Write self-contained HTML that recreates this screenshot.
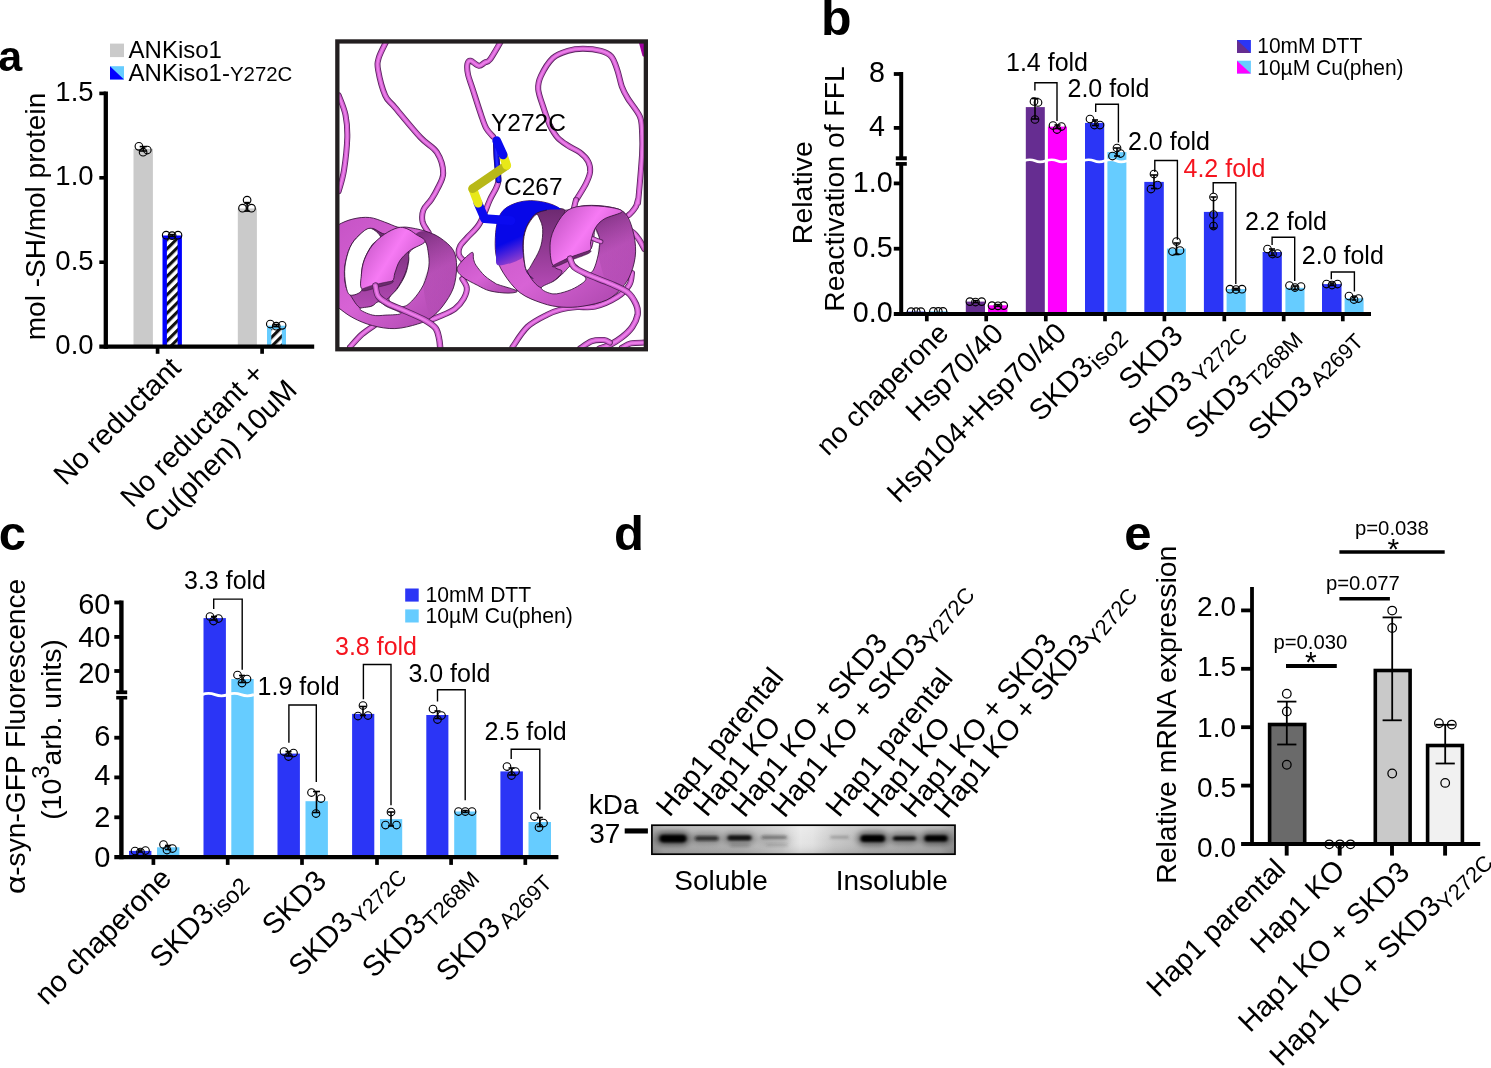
<!DOCTYPE html>
<html lang="en"><head><meta charset="utf-8"><title>Figure</title>
<style>
html,body{margin:0;padding:0;background:#fff;}
body{width:1491px;height:1068px;overflow:hidden;}
svg{display:block;font-family:"Liberation Sans", Arial, Helvetica, sans-serif;}
</style></head><body>
<svg width="1491" height="1068" viewBox="0 0 1491 1068">
<rect width="1491" height="1068" fill="#fff"/>
<g id="panel-a">
<defs><pattern id="hatch" width="6.5" height="6.5" patternUnits="userSpaceOnUse" patternTransform="rotate(-45)"><rect width="6.5" height="6.5" fill="#fff"/><rect y="0" width="6.5" height="3.1" fill="#111"/></pattern></defs>
<text x="-1.80" y="71.30" font-size="43" font-weight="bold">a</text>
<rect x="110.00" y="43.60" width="14.00" height="13.50" fill="#cacaca"/>
<rect x="110.00" y="66.20" width="14.00" height="13.20" fill="#66ccff"/>
<polygon points="110,66.2 124,79.4 110,79.4" fill="#0000ff"/>
<text x="128.60" y="57.80" font-size="24">ANKiso1</text>
<text x="128.60" y="80.60" font-size="24">ANKiso1-<tspan font-size="20.4">Y272C</tspan></text>
<rect x="133.50" y="148.80" width="19.40" height="197.80" fill="#cacaca"/>
<rect x="237.80" y="208.50" width="19.10" height="138.10" fill="#cacaca"/>
<rect x="162.50" y="235.50" width="19.40" height="111.10" fill="#0000ff"/>
<rect x="166.90" y="239.00" width="10.70" height="107.60" fill="url(#hatch)"/>
<rect x="267.00" y="325.70" width="19.00" height="20.90" fill="#66ccff"/>
<rect x="271.30" y="329.00" width="10.50" height="17.60" fill="url(#hatch)"/>
<line x1="105.80" y1="91.40" x2="105.80" y2="348.70" stroke="#000" stroke-width="4.3"/>
<line x1="99.30" y1="346.60" x2="314.20" y2="346.60" stroke="#000" stroke-width="4.2"/>
<line x1="99.30" y1="262.20" x2="105.80" y2="262.20" stroke="#000" stroke-width="3.6"/>
<line x1="99.30" y1="177.80" x2="105.80" y2="177.80" stroke="#000" stroke-width="3.6"/>
<line x1="99.30" y1="93.40" x2="105.80" y2="93.40" stroke="#000" stroke-width="3.6"/>
<line x1="157.60" y1="346.60" x2="157.60" y2="353.80" stroke="#000" stroke-width="3.7"/>
<line x1="262.10" y1="346.60" x2="262.10" y2="353.80" stroke="#000" stroke-width="3.7"/>
<text x="93.60" y="353.90" font-size="27.5" text-anchor="end">0.0</text>
<text x="93.60" y="269.50" font-size="27.5" text-anchor="end">0.5</text>
<text x="93.60" y="185.10" font-size="27.5" text-anchor="end">1.0</text>
<text x="93.60" y="100.70" font-size="27.5" text-anchor="end">1.5</text>
<text x="0.00" y="0.00" font-size="28" text-anchor="middle" transform="translate(45.10 216.50) rotate(-90)">mol -SH/mol protein</text>
<line x1="143.20" y1="146.60" x2="143.20" y2="151.00" stroke="#000" stroke-width="1.6"/>
<line x1="139.70" y1="146.60" x2="146.70" y2="146.60" stroke="#000" stroke-width="1.6"/>
<line x1="139.70" y1="151.00" x2="146.70" y2="151.00" stroke="#000" stroke-width="1.6"/>
<circle cx="138.90" cy="146.30" r="3.8" fill="none" stroke="#000" stroke-width="1.15"/>
<circle cx="147.30" cy="150.00" r="3.8" fill="none" stroke="#000" stroke-width="1.15"/>
<circle cx="143.10" cy="152.20" r="3.8" fill="none" stroke="#000" stroke-width="1.15"/>
<line x1="172.20" y1="234.60" x2="172.20" y2="236.40" stroke="#000" stroke-width="1.6"/>
<line x1="169.20" y1="234.60" x2="175.20" y2="234.60" stroke="#000" stroke-width="1.6"/>
<line x1="169.20" y1="236.40" x2="175.20" y2="236.40" stroke="#000" stroke-width="1.6"/>
<circle cx="166.20" cy="235.20" r="3.8" fill="none" stroke="#000" stroke-width="1.15"/>
<circle cx="172.10" cy="235.60" r="3.8" fill="none" stroke="#000" stroke-width="1.15"/>
<circle cx="178.00" cy="235.20" r="3.8" fill="none" stroke="#000" stroke-width="1.15"/>
<line x1="247.10" y1="202.60" x2="247.10" y2="211.10" stroke="#000" stroke-width="1.6"/>
<line x1="244.35" y1="202.60" x2="249.85" y2="202.60" stroke="#000" stroke-width="1.6"/>
<line x1="244.35" y1="211.10" x2="249.85" y2="211.10" stroke="#000" stroke-width="1.6"/>
<circle cx="247.10" cy="200.10" r="3.8" fill="none" stroke="#000" stroke-width="1.15"/>
<circle cx="242.50" cy="208.20" r="3.8" fill="none" stroke="#000" stroke-width="1.15"/>
<circle cx="251.50" cy="208.20" r="3.8" fill="none" stroke="#000" stroke-width="1.15"/>
<line x1="276.30" y1="324.60" x2="276.30" y2="326.60" stroke="#000" stroke-width="1.6"/>
<line x1="273.30" y1="324.60" x2="279.30" y2="324.60" stroke="#000" stroke-width="1.6"/>
<line x1="273.30" y1="326.60" x2="279.30" y2="326.60" stroke="#000" stroke-width="1.6"/>
<circle cx="270.30" cy="324.00" r="3.8" fill="none" stroke="#000" stroke-width="1.15"/>
<circle cx="276.20" cy="326.20" r="3.8" fill="none" stroke="#000" stroke-width="1.15"/>
<circle cx="282.10" cy="325.30" r="3.8" fill="none" stroke="#000" stroke-width="1.15"/>
<text x="0.00" y="0.00" font-size="28.9" text-anchor="end" transform="translate(182.50 369.50) rotate(-45)">No reductant</text>
<text x="0.00" y="0.00" font-size="28.7" text-anchor="middle" transform="translate(199.00 442.00) rotate(-45)">No reductant +</text>
<text x="0.00" y="0.00" font-size="29.0" text-anchor="middle" transform="translate(227.30 463.00) rotate(-45)">Cu(phen) 10uM</text>
</g>
<g id="protein">
<defs><clipPath id="pclip"><rect x="337.4" y="41.5" width="308.4" height="307.8"/></clipPath><linearGradient id="rib1" x1="0" y1="0" x2="1" y2="1"><stop offset="0" stop-color="#c452c4"/><stop offset="0.5" stop-color="#d763d5"/><stop offset="1" stop-color="#a743a8"/></linearGradient><linearGradient id="rib2" x1="0" y1="0" x2="1" y2="0.6"><stop offset="0" stop-color="#b84cb9"/><stop offset="0.55" stop-color="#f67af4"/><stop offset="1" stop-color="#c653c6"/></linearGradient><linearGradient id="ribd" x1="0" y1="0" x2="0" y2="1"><stop offset="0" stop-color="#6c2a70"/><stop offset="1" stop-color="#b54ab5"/></linearGradient><linearGradient id="blue1" gradientUnits="userSpaceOnUse" x1="500" y1="245" x2="512" y2="272"><stop offset="0" stop-color="#0707e8"/><stop offset="1" stop-color="#c352c4"/></linearGradient><linearGradient id="shade" x1="0" y1="0" x2="0.25" y2="1"><stop offset="0" stop-color="#3a0a40" stop-opacity="0.62"/><stop offset="0.55" stop-color="#3a0a40" stop-opacity="0.12"/><stop offset="1" stop-color="#3a0a40" stop-opacity="0"/></linearGradient></defs>
<rect x="337.00" y="41.00" width="309.00" height="309.00" fill="#fff"/>
<g clip-path="url(#pclip)">
<path d="M338.7 95.4C339.9 98.7 344.1 107.9 345.5 114.9C346.9 121.9 347.5 128.1 347.3 137.4C347.0 146.6 345.4 161.3 344.0 170.3C342.6 179.3 339.6 187.8 338.7 191.3" fill="none" stroke="#5b2460" stroke-width="6.0" stroke-linecap="round" stroke-linejoin="round"/>
<path d="M338.7 95.4C339.9 98.7 344.1 107.9 345.5 114.9C346.9 121.9 347.5 128.1 347.3 137.4C347.0 146.6 345.4 161.3 344.0 170.3C342.6 179.3 339.6 187.8 338.7 191.3" fill="none" stroke="#cf5ece" stroke-width="4.3" stroke-linecap="round" stroke-linejoin="round"/>
<path d="M338.7 95.4C339.9 98.7 344.1 107.9 345.5 114.9C346.9 121.9 347.5 128.1 347.3 137.4C347.0 146.6 345.4 161.3 344.0 170.3C342.6 179.3 339.6 187.8 338.7 191.3" fill="none" stroke="#f286f0" stroke-width="2.0" stroke-linecap="round" stroke-linejoin="round" opacity="0.8"/>
<path d="M385.9 42.2C384.7 44.9 380.0 53.4 378.7 58.0C377.4 62.6 377.1 63.7 378.1 70.0C379.2 76.2 382.4 89.2 385.2 95.4C388.0 101.7 389.1 100.4 394.9 107.4C400.8 114.4 413.4 129.9 420.4 137.4C427.4 144.9 433.1 146.4 436.9 152.4C440.7 158.4 443.2 167.1 443.2 173.3C443.2 179.6 438.9 185.4 436.9 189.8C434.8 194.3 433.1 196.6 430.9 200.0C428.6 203.4 424.8 206.3 423.4 210.0C422.0 213.6 421.8 218.2 422.6 222.0C423.5 225.7 427.6 230.7 428.6 232.5" fill="none" stroke="#5b2460" stroke-width="6.0" stroke-linecap="round" stroke-linejoin="round"/>
<path d="M385.9 42.2C384.7 44.9 380.0 53.4 378.7 58.0C377.4 62.6 377.1 63.7 378.1 70.0C379.2 76.2 382.4 89.2 385.2 95.4C388.0 101.7 389.1 100.4 394.9 107.4C400.8 114.4 413.4 129.9 420.4 137.4C427.4 144.9 433.1 146.4 436.9 152.4C440.7 158.4 443.2 167.1 443.2 173.3C443.2 179.6 438.9 185.4 436.9 189.8C434.8 194.3 433.1 196.6 430.9 200.0C428.6 203.4 424.8 206.3 423.4 210.0C422.0 213.6 421.8 218.2 422.6 222.0C423.5 225.7 427.6 230.7 428.6 232.5" fill="none" stroke="#cf5ece" stroke-width="4.3" stroke-linecap="round" stroke-linejoin="round"/>
<path d="M385.9 42.2C384.7 44.9 380.0 53.4 378.7 58.0C377.4 62.6 377.1 63.7 378.1 70.0C379.2 76.2 382.4 89.2 385.2 95.4C388.0 101.7 389.1 100.4 394.9 107.4C400.8 114.4 413.4 129.9 420.4 137.4C427.4 144.9 433.1 146.4 436.9 152.4C440.7 158.4 443.2 167.1 443.2 173.3C443.2 179.6 438.9 185.4 436.9 189.8C434.8 194.3 433.1 196.6 430.9 200.0C428.6 203.4 424.8 206.3 423.4 210.0C422.0 213.6 421.8 218.2 422.6 222.0C423.5 225.7 427.6 230.7 428.6 232.5" fill="none" stroke="#f286f0" stroke-width="2.0" stroke-linecap="round" stroke-linejoin="round" opacity="0.8"/>
<path d="M500.5 42.2C498.7 45.1 492.6 56.1 490.0 59.5C487.4 62.8 486.7 61.4 484.8 62.5C482.9 63.5 481.2 66.1 478.8 65.8C476.4 65.5 472.5 61.0 470.6 60.7C468.7 60.4 467.9 61.7 467.4 64.0C467.0 66.3 467.1 70.2 468.0 74.5C468.9 78.7 470.7 82.7 472.8 89.4C475.0 96.2 478.8 108.4 481.1 114.9C483.3 121.4 484.3 124.8 486.3 128.4C488.3 132.0 491.9 135.3 493.1 136.6" fill="none" stroke="#5b2460" stroke-width="6.0" stroke-linecap="round" stroke-linejoin="round"/>
<path d="M500.5 42.2C498.7 45.1 492.6 56.1 490.0 59.5C487.4 62.8 486.7 61.4 484.8 62.5C482.9 63.5 481.2 66.1 478.8 65.8C476.4 65.5 472.5 61.0 470.6 60.7C468.7 60.4 467.9 61.7 467.4 64.0C467.0 66.3 467.1 70.2 468.0 74.5C468.9 78.7 470.7 82.7 472.8 89.4C475.0 96.2 478.8 108.4 481.1 114.9C483.3 121.4 484.3 124.8 486.3 128.4C488.3 132.0 491.9 135.3 493.1 136.6" fill="none" stroke="#cf5ece" stroke-width="4.3" stroke-linecap="round" stroke-linejoin="round"/>
<path d="M500.5 42.2C498.7 45.1 492.6 56.1 490.0 59.5C487.4 62.8 486.7 61.4 484.8 62.5C482.9 63.5 481.2 66.1 478.8 65.8C476.4 65.5 472.5 61.0 470.6 60.7C468.7 60.4 467.9 61.7 467.4 64.0C467.0 66.3 467.1 70.2 468.0 74.5C468.9 78.7 470.7 82.7 472.8 89.4C475.0 96.2 478.8 108.4 481.1 114.9C483.3 121.4 484.3 124.8 486.3 128.4C488.3 132.0 491.9 135.3 493.1 136.6" fill="none" stroke="#f286f0" stroke-width="2.0" stroke-linecap="round" stroke-linejoin="round" opacity="0.8"/>
<path d="M576.1 200.0C577.8 197.3 583.6 188.5 585.9 183.8C588.2 179.1 589.7 175.6 590.1 171.8C590.4 168.1 589.8 164.6 588.1 161.3C586.4 158.1 583.3 155.0 579.9 152.4C576.5 149.7 571.6 148.1 567.9 145.6C564.2 143.1 560.4 140.7 557.4 137.4C554.4 134.0 552.2 130.1 549.9 125.4C547.7 120.6 545.9 114.9 543.9 108.9C542.0 102.9 538.7 94.9 538.2 89.4C537.7 83.9 538.5 81.2 540.9 76.0C543.4 70.7 548.4 62.2 552.9 58.0C557.4 53.8 562.9 52.3 567.9 50.8C572.9 49.2 577.4 48.7 582.9 48.7C588.4 48.7 596.1 49.5 600.9 50.8C605.6 52.1 608.6 53.3 611.3 56.5C614.1 59.7 615.6 65.0 617.3 70.0C619.1 75.0 620.1 81.7 621.8 86.4C623.6 91.2 624.8 93.4 627.8 98.4C630.8 103.4 637.4 110.7 639.8 116.4C642.2 122.1 641.7 126.6 642.1 132.9C642.4 139.1 642.7 142.7 642.1 153.9C641.4 165.0 639.0 192.4 638.3 200.0C637.6 207.6 638.4 198.5 638.0 199.5C637.6 200.5 637.0 204.2 636.1 206.2C635.1 208.2 633.6 210.0 632.3 211.5C631.1 213.0 629.2 214.6 628.6 215.2" fill="none" stroke="#5b2460" stroke-width="6.0" stroke-linecap="round" stroke-linejoin="round"/>
<path d="M576.1 200.0C577.8 197.3 583.6 188.5 585.9 183.8C588.2 179.1 589.7 175.6 590.1 171.8C590.4 168.1 589.8 164.6 588.1 161.3C586.4 158.1 583.3 155.0 579.9 152.4C576.5 149.7 571.6 148.1 567.9 145.6C564.2 143.1 560.4 140.7 557.4 137.4C554.4 134.0 552.2 130.1 549.9 125.4C547.7 120.6 545.9 114.9 543.9 108.9C542.0 102.9 538.7 94.9 538.2 89.4C537.7 83.9 538.5 81.2 540.9 76.0C543.4 70.7 548.4 62.2 552.9 58.0C557.4 53.8 562.9 52.3 567.9 50.8C572.9 49.2 577.4 48.7 582.9 48.7C588.4 48.7 596.1 49.5 600.9 50.8C605.6 52.1 608.6 53.3 611.3 56.5C614.1 59.7 615.6 65.0 617.3 70.0C619.1 75.0 620.1 81.7 621.8 86.4C623.6 91.2 624.8 93.4 627.8 98.4C630.8 103.4 637.4 110.7 639.8 116.4C642.2 122.1 641.7 126.6 642.1 132.9C642.4 139.1 642.7 142.7 642.1 153.9C641.4 165.0 639.0 192.4 638.3 200.0C637.6 207.6 638.4 198.5 638.0 199.5C637.6 200.5 637.0 204.2 636.1 206.2C635.1 208.2 633.6 210.0 632.3 211.5C631.1 213.0 629.2 214.6 628.6 215.2" fill="none" stroke="#cf5ece" stroke-width="4.3" stroke-linecap="round" stroke-linejoin="round"/>
<path d="M576.1 200.0C577.8 197.3 583.6 188.5 585.9 183.8C588.2 179.1 589.7 175.6 590.1 171.8C590.4 168.1 589.8 164.6 588.1 161.3C586.4 158.1 583.3 155.0 579.9 152.4C576.5 149.7 571.6 148.1 567.9 145.6C564.2 143.1 560.4 140.7 557.4 137.4C554.4 134.0 552.2 130.1 549.9 125.4C547.7 120.6 545.9 114.9 543.9 108.9C542.0 102.9 538.7 94.9 538.2 89.4C537.7 83.9 538.5 81.2 540.9 76.0C543.4 70.7 548.4 62.2 552.9 58.0C557.4 53.8 562.9 52.3 567.9 50.8C572.9 49.2 577.4 48.7 582.9 48.7C588.4 48.7 596.1 49.5 600.9 50.8C605.6 52.1 608.6 53.3 611.3 56.5C614.1 59.7 615.6 65.0 617.3 70.0C619.1 75.0 620.1 81.7 621.8 86.4C623.6 91.2 624.8 93.4 627.8 98.4C630.8 103.4 637.4 110.7 639.8 116.4C642.2 122.1 641.7 126.6 642.1 132.9C642.4 139.1 642.7 142.7 642.1 153.9C641.4 165.0 639.0 192.4 638.3 200.0C637.6 207.6 638.4 198.5 638.0 199.5C637.6 200.5 637.0 204.2 636.1 206.2C635.1 208.2 633.6 210.0 632.3 211.5C631.1 213.0 629.2 214.6 628.6 215.2" fill="none" stroke="#f286f0" stroke-width="2.0" stroke-linecap="round" stroke-linejoin="round" opacity="0.8"/>
<path d="M576.1 200.0C576.1 200.2 576.1 199.6 575.7 201.0C575.3 202.4 574.2 207.2 573.9 208.5" fill="none" stroke="#5b2460" stroke-width="6.0" stroke-linecap="round" stroke-linejoin="round"/>
<path d="M576.1 200.0C576.1 200.2 576.1 199.6 575.7 201.0C575.3 202.4 574.2 207.2 573.9 208.5" fill="none" stroke="#cf5ece" stroke-width="4.3" stroke-linecap="round" stroke-linejoin="round"/>
<path d="M576.1 200.0C576.1 200.2 576.1 199.6 575.7 201.0C575.3 202.4 574.2 207.2 573.9 208.5" fill="none" stroke="#f286f0" stroke-width="2.0" stroke-linecap="round" stroke-linejoin="round" opacity="0.8"/>
<polygon points="639,43 646,43 646,58 642.5,56" fill="#a000a0"/>
<path d="M495.9 140.0C496.0 143.2 496.3 152.4 496.7 159.4C497.0 166.4 499.3 175.2 498.2 181.9C497.0 188.7 493.0 192.9 489.9 199.9C486.8 206.9 483.2 217.6 479.4 223.9C475.7 230.1 470.7 233.6 467.5 237.3C464.2 241.1 461.3 243.3 460.0 246.3C458.6 249.3 458.2 252.6 459.2 255.3C460.2 258.1 464.8 261.6 466.0 262.8" fill="none" stroke="#5b2460" stroke-width="6.0" stroke-linecap="round" stroke-linejoin="round"/>
<path d="M495.9 140.0C496.0 143.2 496.3 152.4 496.7 159.4C497.0 166.4 499.3 175.2 498.2 181.9C497.0 188.7 493.0 192.9 489.9 199.9C486.8 206.9 483.2 217.6 479.4 223.9C475.7 230.1 470.7 233.6 467.5 237.3C464.2 241.1 461.3 243.3 460.0 246.3C458.6 249.3 458.2 252.6 459.2 255.3C460.2 258.1 464.8 261.6 466.0 262.8" fill="none" stroke="#cf5ece" stroke-width="4.3" stroke-linecap="round" stroke-linejoin="round"/>
<path d="M495.9 140.0C496.0 143.2 496.3 152.4 496.7 159.4C497.0 166.4 499.3 175.2 498.2 181.9C497.0 188.7 493.0 192.9 489.9 199.9C486.8 206.9 483.2 217.6 479.4 223.9C475.7 230.1 470.7 233.6 467.5 237.3C464.2 241.1 461.3 243.3 460.0 246.3C458.6 249.3 458.2 252.6 459.2 255.3C460.2 258.1 464.8 261.6 466.0 262.8" fill="none" stroke="#f286f0" stroke-width="2.0" stroke-linecap="round" stroke-linejoin="round" opacity="0.8"/>
<path d="M644.3 248.9C643.3 247.2 640.6 241.4 638.3 238.4C636.1 235.4 634.1 232.0 630.8 231.0C627.6 230.0 623.8 230.7 618.8 232.5C613.8 234.2 605.1 240.4 600.9 241.4C596.6 242.5 594.6 239.2 593.4 238.7" fill="none" stroke="#5b2460" stroke-width="6.0" stroke-linecap="round" stroke-linejoin="round"/>
<path d="M644.3 248.9C643.3 247.2 640.6 241.4 638.3 238.4C636.1 235.4 634.1 232.0 630.8 231.0C627.6 230.0 623.8 230.7 618.8 232.5C613.8 234.2 605.1 240.4 600.9 241.4C596.6 242.5 594.6 239.2 593.4 238.7" fill="none" stroke="#cf5ece" stroke-width="4.3" stroke-linecap="round" stroke-linejoin="round"/>
<path d="M644.3 248.9C643.3 247.2 640.6 241.4 638.3 238.4C636.1 235.4 634.1 232.0 630.8 231.0C627.6 230.0 623.8 230.7 618.8 232.5C613.8 234.2 605.1 240.4 600.9 241.4C596.6 242.5 594.6 239.2 593.4 238.7" fill="none" stroke="#f286f0" stroke-width="2.0" stroke-linecap="round" stroke-linejoin="round" opacity="0.8"/>
<path d="M462.3 278.9C463.1 280.4 466.6 284.6 466.8 287.9C467.1 291.1 465.8 294.9 463.8 298.4C461.8 301.9 458.8 305.9 454.9 308.9C450.9 311.9 444.4 314.4 439.9 316.3C435.4 318.3 429.9 320.1 427.9 320.8" fill="none" stroke="#5b2460" stroke-width="6.0" stroke-linecap="round" stroke-linejoin="round"/>
<path d="M462.3 278.9C463.1 280.4 466.6 284.6 466.8 287.9C467.1 291.1 465.8 294.9 463.8 298.4C461.8 301.9 458.8 305.9 454.9 308.9C450.9 311.9 444.4 314.4 439.9 316.3C435.4 318.3 429.9 320.1 427.9 320.8" fill="none" stroke="#cf5ece" stroke-width="4.3" stroke-linecap="round" stroke-linejoin="round"/>
<path d="M462.3 278.9C463.1 280.4 466.6 284.6 466.8 287.9C467.1 291.1 465.8 294.9 463.8 298.4C461.8 301.9 458.8 305.9 454.9 308.9C450.9 311.9 444.4 314.4 439.9 316.3C435.4 318.3 429.9 320.1 427.9 320.8" fill="none" stroke="#f286f0" stroke-width="2.0" stroke-linecap="round" stroke-linejoin="round" opacity="0.8"/>
<path d="M375.4 324.6C373.2 326.2 366.2 330.6 362.0 334.3C357.7 338.1 352.0 344.9 350.0 347.1" fill="none" stroke="#5b2460" stroke-width="6.0" stroke-linecap="round" stroke-linejoin="round"/>
<path d="M375.4 324.6C373.2 326.2 366.2 330.6 362.0 334.3C357.7 338.1 352.0 344.9 350.0 347.1" fill="none" stroke="#cf5ece" stroke-width="4.3" stroke-linecap="round" stroke-linejoin="round"/>
<path d="M375.4 324.6C373.2 326.2 366.2 330.6 362.0 334.3C357.7 338.1 352.0 344.9 350.0 347.1" fill="none" stroke="#f286f0" stroke-width="2.0" stroke-linecap="round" stroke-linejoin="round" opacity="0.8"/>
<path d="M512.5 347.1C515.0 343.7 521.7 332.2 527.5 326.8C533.2 321.5 541.4 317.7 546.9 314.9C552.4 312.0 555.4 310.9 560.4 309.6C565.4 308.3 571.1 307.6 576.9 307.1C582.6 306.6 588.1 308.3 594.9 306.6C601.6 304.9 611.6 300.5 617.3 296.9C623.1 293.3 626.9 288.9 629.3 284.9C631.8 280.9 631.6 274.9 632.0 272.9" fill="none" stroke="#5b2460" stroke-width="6.0" stroke-linecap="round" stroke-linejoin="round"/>
<path d="M512.5 347.1C515.0 343.7 521.7 332.2 527.5 326.8C533.2 321.5 541.4 317.7 546.9 314.9C552.4 312.0 555.4 310.9 560.4 309.6C565.4 308.3 571.1 307.6 576.9 307.1C582.6 306.6 588.1 308.3 594.9 306.6C601.6 304.9 611.6 300.5 617.3 296.9C623.1 293.3 626.9 288.9 629.3 284.9C631.8 280.9 631.6 274.9 632.0 272.9" fill="none" stroke="#cf5ece" stroke-width="4.3" stroke-linecap="round" stroke-linejoin="round"/>
<path d="M512.5 347.1C515.0 343.7 521.7 332.2 527.5 326.8C533.2 321.5 541.4 317.7 546.9 314.9C552.4 312.0 555.4 310.9 560.4 309.6C565.4 308.3 571.1 307.6 576.9 307.1C582.6 306.6 588.1 308.3 594.9 306.6C601.6 304.9 611.6 300.5 617.3 296.9C623.1 293.3 626.9 288.9 629.3 284.9C631.8 280.9 631.6 274.9 632.0 272.9" fill="none" stroke="#f286f0" stroke-width="2.0" stroke-linecap="round" stroke-linejoin="round" opacity="0.8"/>
<path d="M326.0 266.9C326.0 255.7 327.0 239.4 329.0 232.5C331.0 225.5 334.0 227.2 338.0 225.0C342.0 222.7 347.7 220.2 353.0 219.0C358.2 217.7 364.2 217.0 369.5 217.5C374.7 218.0 379.7 220.3 384.4 222.0C389.2 223.6 394.2 226.3 397.9 227.2C401.7 228.1 402.4 226.6 406.9 227.2C411.4 227.8 419.4 229.2 424.9 231.0C430.4 232.7 435.1 234.5 439.9 237.7C444.6 240.9 450.6 245.6 453.4 250.4C456.1 255.3 456.6 260.7 456.6 266.9C456.6 273.2 455.6 281.4 453.4 287.9C451.1 294.4 446.6 300.9 442.9 305.9C439.1 310.9 435.1 314.8 430.9 317.8C426.6 320.9 423.4 322.3 417.4 324.1C411.4 325.9 402.4 328.4 394.9 328.6C387.4 328.9 379.4 327.4 372.5 325.6C365.5 323.8 358.7 320.9 353.0 317.8C347.2 314.8 342.0 310.4 338.0 307.4C334.0 304.4 331.0 306.6 329.0 299.9C327.0 293.1 326.0 278.1 326.0 266.9Z" fill="url(#rib1)" stroke="#3c173f" stroke-width="0.9" stroke-linejoin="round"/>
<path d="M371.0 228.3C375.2 228.0 379.9 233.3 384.4 234.0C388.9 234.7 394.2 230.7 397.9 232.5C401.7 234.2 405.1 240.2 406.9 244.4C408.7 248.7 409.0 253.2 408.7 257.9C408.5 262.7 407.5 267.7 405.4 272.9C403.4 278.1 399.7 284.9 396.4 289.4C393.2 293.9 389.9 297.1 385.9 299.9C381.9 302.6 376.7 304.5 372.5 305.9C368.2 307.2 364.1 309.8 360.5 308.1C356.8 306.4 353.2 299.5 350.7 295.7C348.2 291.8 346.5 289.7 345.5 284.9C344.5 280.1 344.0 273.2 344.7 266.9C345.5 260.7 347.6 252.7 350.0 247.4C352.4 242.2 355.5 238.6 359.0 235.4C362.5 232.3 366.7 228.5 371.0 228.3Z" fill="url(#ribd)" stroke="#3c173f" stroke-width="0.9" stroke-linejoin="round"/>
<path d="M370.2 228.3C366.6 228.0 362.3 232.3 359.0 235.4C355.6 238.6 352.3 242.2 350.0 247.4C347.6 252.7 345.6 260.7 344.9 266.9C344.2 273.2 344.9 280.2 345.8 284.9C346.7 289.6 347.6 294.2 350.3 295.1C353.0 295.9 360.1 293.6 362.0 290.1C363.8 286.7 361.0 279.5 361.4 274.4C361.8 269.3 362.5 264.4 364.4 259.4C366.2 254.4 369.7 248.1 372.5 244.4C375.2 240.7 381.1 239.9 380.7 237.2C380.3 234.6 373.8 228.6 370.2 228.3Z" fill="#fff" stroke="#3c173f" stroke-width="0.9" stroke-linejoin="round"/>
<path d="M424.9 241.7C422.8 240.9 418.5 244.9 415.9 246.7C413.3 248.5 410.4 250.3 409.2 252.7C408.0 255.0 409.3 257.3 408.7 260.9C408.1 264.5 407.2 269.9 405.4 274.4C403.6 278.9 400.7 283.6 397.9 287.9C395.2 292.1 388.2 296.7 388.9 299.9C389.7 303.0 398.4 306.6 402.4 306.6C406.4 306.6 409.4 303.5 412.9 299.9C416.4 296.2 420.7 290.4 423.4 284.9C426.0 279.4 428.0 272.4 428.8 266.9C429.6 261.4 428.8 256.1 428.2 251.9C427.5 247.7 426.9 242.6 424.9 241.7Z" fill="#fff" stroke="#3c173f" stroke-width="0.9" stroke-linejoin="round"/>
<path d="M359.7 308.9C359.6 307.4 368.5 307.4 371.7 306.2C374.9 305.0 376.2 301.6 378.7 301.7C381.2 301.7 383.0 304.7 386.7 306.6C390.4 308.6 401.0 311.9 400.9 313.4C400.8 314.8 390.7 314.9 385.9 315.1C381.2 315.4 376.8 316.2 372.5 315.1C368.1 314.1 359.8 310.4 359.7 308.9Z" fill="#fff" stroke="#3c173f" stroke-width="0.9" stroke-linejoin="round"/>
<path d="M424.9 241.7C422.8 238.8 415.9 236.0 415.9 234.3C415.9 232.5 420.9 230.7 424.9 231.3C428.9 231.8 435.1 234.5 439.9 237.7C444.6 240.9 450.6 245.6 453.4 250.4C456.1 255.3 456.6 260.7 456.6 266.9C456.6 273.2 455.6 281.4 453.4 287.9C451.1 294.4 446.6 300.9 442.9 305.9C439.1 310.9 434.1 321.3 430.9 317.8C427.6 314.4 423.7 293.4 423.4 284.9C423.0 276.4 428.0 272.4 428.8 266.9C429.6 261.4 428.8 256.1 428.2 251.9C427.5 247.7 426.9 244.7 424.9 241.7Z" fill="url(#shade)" stroke="none" stroke-width="0.9" stroke-linejoin="round"/>
<path d="M397.9 227.7C394.2 228.6 388.7 231.3 384.4 234.3C380.2 237.2 375.8 240.9 372.5 245.2C369.1 249.4 366.2 254.8 364.4 259.7C362.5 264.6 361.7 269.8 361.4 274.7C361.0 279.6 359.2 287.4 362.3 289.1C365.4 290.8 375.0 286.2 379.9 284.9C384.9 283.6 389.7 283.1 392.2 281.1C394.7 279.1 393.7 276.3 394.9 272.9C396.2 269.5 397.2 264.7 399.7 260.9C402.2 257.2 405.7 253.6 409.9 250.4C414.1 247.2 423.9 244.4 424.9 241.7C425.9 239.0 418.9 236.4 415.9 234.3C412.9 232.1 409.9 229.8 406.9 228.7C403.9 227.6 401.7 226.7 397.9 227.7Z" fill="url(#rib2)" stroke="#3c173f" stroke-width="0.9" stroke-linejoin="round"/>
<path d="M362.3 289.1C363.8 288.1 369.0 286.2 374.0 284.9C378.9 283.6 389.4 281.3 392.2 281.1C395.0 280.9 392.8 282.8 390.7 283.7C388.7 284.6 384.2 285.5 379.9 286.7C375.6 287.9 367.9 290.5 365.0 290.9C362.0 291.3 360.8 290.1 362.3 289.1Z" fill="#6a2b6d" stroke="#3c173f" stroke-width="0.5" stroke-linejoin="round"/>
<path d="M375.4 285.6C375.9 287.4 376.1 293.2 378.1 296.1C380.1 299.0 382.9 300.7 387.4 303.2C392.0 305.7 399.2 308.3 405.4 311.1C411.7 313.9 419.8 317.2 424.9 320.1C429.9 323.0 433.3 325.2 435.7 328.3C438.0 331.5 438.4 335.6 439.1 338.8C439.9 342.1 440.0 346.3 440.2 347.8" fill="none" stroke="#5b2460" stroke-width="6.4" stroke-linecap="round" stroke-linejoin="round"/>
<path d="M375.4 285.6C375.9 287.4 376.1 293.2 378.1 296.1C380.1 299.0 382.9 300.7 387.4 303.2C392.0 305.7 399.2 308.3 405.4 311.1C411.7 313.9 419.8 317.2 424.9 320.1C429.9 323.0 433.3 325.2 435.7 328.3C438.0 331.5 438.4 335.6 439.1 338.8C439.9 342.1 440.0 346.3 440.2 347.8" fill="none" stroke="#cf5ece" stroke-width="4.7" stroke-linecap="round" stroke-linejoin="round"/>
<path d="M375.4 285.6C375.9 287.4 376.1 293.2 378.1 296.1C380.1 299.0 382.9 300.7 387.4 303.2C392.0 305.7 399.2 308.3 405.4 311.1C411.7 313.9 419.8 317.2 424.9 320.1C429.9 323.0 433.3 325.2 435.7 328.3C438.0 331.5 438.4 335.6 439.1 338.8C439.9 342.1 440.0 346.3 440.2 347.8" fill="none" stroke="#f286f0" stroke-width="2.2" stroke-linecap="round" stroke-linejoin="round" opacity="0.8"/>
<path d="M457.5 267.2C459.1 263.2 469.0 253.8 471.6 252.5C474.3 251.2 472.8 257.3 473.6 259.4C474.3 261.6 474.3 262.7 476.1 265.4C478.0 268.2 481.7 273.0 484.8 275.9C488.0 278.8 492.6 281.6 495.0 283.1C497.4 284.6 495.3 283.6 499.0 284.9C502.6 286.2 515.5 289.5 517.0 290.9C518.5 292.3 512.5 293.1 508.0 293.1C503.5 293.1 495.1 292.2 490.0 290.9C484.9 289.6 481.9 287.6 477.3 285.2C472.7 282.8 465.6 279.6 462.3 276.6C459.0 273.7 456.0 271.2 457.5 267.2Z" fill="url(#rib1)" stroke="#3c173f" stroke-width="0.9" stroke-linejoin="round"/>
<path d="M505.0 208.8C508.0 206.3 512.7 204.1 517.0 202.8C521.2 201.4 526.0 200.8 530.4 200.7C534.9 200.6 539.9 201.4 543.9 202.2C547.9 203.0 551.4 204.2 554.4 205.5C557.4 206.7 559.4 209.0 561.9 209.7C564.4 210.4 565.4 210.4 569.4 209.7C573.4 209.0 579.1 205.9 585.9 205.5C592.6 205.0 603.4 205.7 609.9 207.0C616.3 208.2 621.0 209.2 624.8 213.0C628.6 216.7 630.8 223.0 632.6 229.5C634.4 235.9 635.9 244.7 635.6 251.9C635.4 259.2 633.4 266.9 631.1 272.9C628.8 278.9 625.9 283.4 621.8 287.9C617.8 292.4 613.3 296.8 606.9 299.9C600.4 302.9 590.4 305.0 582.9 306.2C575.4 307.4 568.7 307.6 561.9 307.1C555.2 306.6 549.4 305.6 542.4 303.2C535.4 300.8 526.5 297.7 520.0 292.7C513.5 287.7 507.5 279.5 503.5 273.2C499.5 266.9 497.3 261.7 496.0 254.9C494.7 248.1 495.2 238.7 495.7 232.5C496.2 226.2 497.4 221.4 499.0 217.5C500.5 213.5 502.0 211.2 505.0 208.8Z" fill="url(#rib1)" stroke="#3c173f" stroke-width="0.9" stroke-linejoin="round"/>
<path d="M534.9 214.2C537.9 211.2 540.7 210.9 543.9 210.0C547.2 209.0 550.9 208.4 554.4 208.5C557.9 208.6 564.4 208.0 564.9 210.7C565.4 213.5 559.7 219.6 557.4 225.0C555.2 230.3 552.0 236.2 551.4 242.9C550.8 249.7 551.9 260.7 553.7 265.4C555.4 270.2 561.8 268.9 561.9 271.4C562.0 273.9 557.9 277.7 554.4 280.4C550.9 283.1 545.4 289.0 540.9 287.6C536.4 286.1 530.4 278.6 527.5 271.7C524.5 264.8 523.5 253.2 523.3 245.9C523.1 238.6 524.3 233.3 526.3 228.0C528.2 222.7 532.0 217.2 534.9 214.2Z" fill="url(#ribd)" stroke="#3c173f" stroke-width="0.9" stroke-linejoin="round"/>
<path d="M505.0 208.8C508.0 206.3 512.7 204.1 517.0 202.8C521.2 201.4 526.0 200.8 530.4 200.7C534.9 200.6 539.9 201.4 543.9 202.2C547.9 203.0 551.7 204.3 554.4 205.5C557.2 206.7 561.7 208.5 560.4 209.2C559.2 210.0 551.2 209.1 546.9 210.0C542.7 210.9 538.4 211.4 534.9 214.5C531.4 217.5 528.0 223.0 526.0 228.3C524.0 233.5 523.6 241.0 523.0 245.9C522.3 250.9 526.2 254.7 522.2 257.9C518.2 261.2 503.4 265.9 499.0 265.4C494.6 264.9 496.5 260.4 496.0 254.9C495.4 249.4 495.2 238.7 495.7 232.5C496.2 226.2 497.4 221.4 499.0 217.5C500.5 213.5 502.0 211.2 505.0 208.8Z" fill="url(#blue1)" stroke="none" stroke-width="0.9" stroke-linejoin="round"/>
<path d="M546.9 210.0C544.9 210.7 538.4 211.4 534.9 214.5C531.4 217.5 528.0 223.0 526.0 228.3C524.0 233.5 523.0 239.0 523.0 245.9C523.0 252.9 524.2 264.4 526.0 269.9C527.7 275.4 532.2 277.4 533.4 278.9" fill="none" stroke="#2a1040" stroke-width="0.9"/>
<path d="M535.7 214.8C533.4 216.3 528.3 223.1 526.3 228.3C524.2 233.5 523.3 239.0 523.3 245.9C523.3 252.9 524.5 267.4 526.3 269.9C528.0 272.4 531.3 264.9 533.7 260.9C536.2 256.9 539.4 251.2 540.9 245.9C542.4 240.7 542.9 234.0 542.7 229.5C542.5 225.0 540.9 221.4 539.7 219.0C538.6 216.5 537.9 213.2 535.7 214.8Z" fill="#fff" stroke="#3c173f" stroke-width="0.9" stroke-linejoin="round"/>
<path d="M595.2 228.3C594.1 228.3 594.4 236.2 593.4 239.9C592.4 243.7 592.8 247.7 589.2 250.7C585.6 253.8 573.7 255.8 571.6 258.2C569.6 260.7 574.3 263.0 576.9 265.4C579.5 267.9 584.6 272.2 587.4 272.9C590.1 273.7 591.6 272.9 593.4 269.9C595.2 266.9 597.1 259.9 598.2 254.9C599.2 249.9 600.2 244.4 599.7 239.9C599.2 235.5 596.2 228.3 595.2 228.3Z" fill="#fff" stroke="#3c173f" stroke-width="0.9" stroke-linejoin="round"/>
<path d="M563.4 272.9C560.5 275.4 558.1 278.2 554.4 280.7C550.7 283.2 541.5 285.7 541.2 287.9C541.0 290.1 548.5 293.4 552.9 293.9C557.4 294.4 563.4 292.4 567.9 290.9C572.4 289.4 576.9 286.9 579.9 284.9C582.9 282.9 585.9 280.9 585.9 278.9C585.9 276.9 582.3 275.1 579.9 272.9C577.5 270.7 574.4 265.7 571.6 265.7C568.9 265.7 566.3 270.4 563.4 272.9Z" fill="#fff" stroke="#3c173f" stroke-width="0.9" stroke-linejoin="round"/>
<path d="M595.2 228.3C595.9 224.8 599.7 221.7 604.2 219.0C608.7 216.2 618.7 212.8 622.1 211.8C625.6 210.8 623.1 210.0 624.8 213.0C626.6 215.9 630.8 223.0 632.6 229.5C634.4 235.9 635.9 244.7 635.6 251.9C635.4 259.2 633.4 266.9 631.1 272.9C628.8 278.9 625.4 284.9 621.8 287.9C618.3 290.9 613.8 296.4 609.9 290.9C605.9 285.4 599.9 263.4 598.2 254.9C596.5 246.4 600.2 244.4 599.7 239.9C599.2 235.5 594.4 231.8 595.2 228.3Z" fill="url(#shade)" stroke="none" stroke-width="0.9" stroke-linejoin="round"/>
<path d="M590.7 237.7C592.4 238.4 599.2 241.1 600.9 241.7" fill="none" stroke="#5b2460" stroke-width="5" stroke-linecap="round" stroke-linejoin="round"/>
<path d="M590.7 237.7C592.4 238.4 599.2 241.1 600.9 241.7" fill="none" stroke="#cf5ece" stroke-width="3.3" stroke-linecap="round" stroke-linejoin="round"/>
<path d="M590.7 237.7C592.4 238.4 599.2 241.1 600.9 241.7" fill="none" stroke="#f286f0" stroke-width="1.7" stroke-linecap="round" stroke-linejoin="round" opacity="0.8"/>
<path d="M568.2 210.0C563.3 213.2 559.2 219.5 556.2 225.0C553.2 230.5 550.7 236.2 550.2 242.9C549.7 249.7 550.3 262.9 553.2 265.4C556.2 268.0 561.9 260.7 567.9 258.2C573.9 255.8 585.4 253.5 589.2 250.7C593.0 248.0 589.7 245.5 590.7 241.7C591.7 238.0 592.9 232.1 595.2 228.3C597.4 224.5 599.7 221.7 604.2 219.0C608.7 216.2 621.2 213.7 622.1 211.8C623.1 209.8 615.9 208.3 609.9 207.3C603.8 206.3 592.8 205.3 585.9 205.8C578.9 206.2 573.1 206.8 568.2 210.0Z" fill="url(#rib2)" stroke="#3c173f" stroke-width="0.9" stroke-linejoin="round"/>
<path d="M553.2 265.4C555.2 264.0 561.9 260.7 567.9 258.2C573.9 255.8 585.8 251.5 589.2 250.7C592.5 250.0 591.4 252.0 588.1 253.7C584.8 255.4 574.8 258.8 569.4 260.9C564.0 263.1 558.6 265.9 555.9 266.6C553.2 267.4 551.2 266.8 553.2 265.4Z" fill="#6a2b6d" stroke="#3c173f" stroke-width="0.5" stroke-linejoin="round"/>
<path d="M570.1 258.7C570.8 260.1 571.3 264.6 574.2 267.2C577.1 269.8 581.4 271.7 587.4 274.4C593.3 277.1 603.1 280.4 609.9 283.4C616.6 286.4 623.5 288.9 627.8 292.4C632.2 295.9 634.4 300.6 636.1 304.4C637.7 308.1 638.2 311.1 637.6 314.9C636.9 318.6 634.9 323.1 632.3 326.8C629.7 330.6 625.6 334.3 621.8 337.3C618.1 340.3 613.6 342.9 609.9 344.8C606.1 346.7 601.1 347.9 599.4 348.6" fill="none" stroke="#5b2460" stroke-width="6.4" stroke-linecap="round" stroke-linejoin="round"/>
<path d="M570.1 258.7C570.8 260.1 571.3 264.6 574.2 267.2C577.1 269.8 581.4 271.7 587.4 274.4C593.3 277.1 603.1 280.4 609.9 283.4C616.6 286.4 623.5 288.9 627.8 292.4C632.2 295.9 634.4 300.6 636.1 304.4C637.7 308.1 638.2 311.1 637.6 314.9C636.9 318.6 634.9 323.1 632.3 326.8C629.7 330.6 625.6 334.3 621.8 337.3C618.1 340.3 613.6 342.9 609.9 344.8C606.1 346.7 601.1 347.9 599.4 348.6" fill="none" stroke="#cf5ece" stroke-width="4.7" stroke-linecap="round" stroke-linejoin="round"/>
<path d="M570.1 258.7C570.8 260.1 571.3 264.6 574.2 267.2C577.1 269.8 581.4 271.7 587.4 274.4C593.3 277.1 603.1 280.4 609.9 283.4C616.6 286.4 623.5 288.9 627.8 292.4C632.2 295.9 634.4 300.6 636.1 304.4C637.7 308.1 638.2 311.1 637.6 314.9C636.9 318.6 634.9 323.1 632.3 326.8C629.7 330.6 625.6 334.3 621.8 337.3C618.1 340.3 613.6 342.9 609.9 344.8C606.1 346.7 601.1 347.9 599.4 348.6" fill="none" stroke="#f286f0" stroke-width="2.2" stroke-linecap="round" stroke-linejoin="round" opacity="0.8"/>
<path d="M579.9 348.6C581.9 347.3 587.9 342.5 591.9 341.1C595.9 339.6 600.9 339.8 603.9 340.0C606.9 340.3 608.9 342.1 609.9 342.6" fill="none" stroke="#5b2460" stroke-width="6" stroke-linecap="round" stroke-linejoin="round"/>
<path d="M579.9 348.6C581.9 347.3 587.9 342.5 591.9 341.1C595.9 339.6 600.9 339.8 603.9 340.0C606.9 340.3 608.9 342.1 609.9 342.6" fill="none" stroke="#cf5ece" stroke-width="4.3" stroke-linecap="round" stroke-linejoin="round"/>
<path d="M579.9 348.6C581.9 347.3 587.9 342.5 591.9 341.1C595.9 339.6 600.9 339.8 603.9 340.0C606.9 340.3 608.9 342.1 609.9 342.6" fill="none" stroke="#f286f0" stroke-width="2.0" stroke-linecap="round" stroke-linejoin="round" opacity="0.8"/>
<path d="M621.8 347.8C623.3 347.1 627.1 344.2 630.8 343.3C634.6 342.4 642.1 342.7 644.3 342.6" fill="none" stroke="#5b2460" stroke-width="6" stroke-linecap="round" stroke-linejoin="round"/>
<path d="M621.8 347.8C623.3 347.1 627.1 344.2 630.8 343.3C634.6 342.4 642.1 342.7 644.3 342.6" fill="none" stroke="#cf5ece" stroke-width="4.3" stroke-linecap="round" stroke-linejoin="round"/>
<path d="M621.8 347.8C623.3 347.1 627.1 344.2 630.8 343.3C634.6 342.4 642.1 342.7 644.3 342.6" fill="none" stroke="#f286f0" stroke-width="2.0" stroke-linecap="round" stroke-linejoin="round" opacity="0.8"/>
<path d="M495.9 140.0C496.0 143.2 496.2 152.7 496.7 159.4C497.1 166.2 498.3 176.9 498.6 180.4" fill="none" stroke="#0a0aa0" stroke-width="5.6" stroke-linecap="round" stroke-linejoin="round"/>
<path d="M495.9 140.0C496.0 143.2 496.2 152.7 496.7 159.4C497.1 166.2 498.3 176.9 498.6 180.4" fill="none" stroke="#1010f0" stroke-width="3.9" stroke-linecap="round" stroke-linejoin="round"/>
<path d="M495.9 140.0C496.0 143.2 496.2 152.7 496.7 159.4C497.1 166.2 498.3 176.9 498.6 180.4" fill="none" stroke="#3030ff" stroke-width="1.9" stroke-linecap="round" stroke-linejoin="round" opacity="0.8"/>
<path d="M484.7 218.6L510.9 220.6" fill="none" stroke="#0a0af0" stroke-width="8.8" stroke-linecap="round" stroke-linejoin="round"/>
<path d="M477.9 202.9L484.7 218.6" fill="none" stroke="#0a0af0" stroke-width="8.8" stroke-linecap="round" stroke-linejoin="round"/>
<path d="M472.7 188.7L478.2 203.2" fill="none" stroke="#e8e818" stroke-width="8.8" stroke-linecap="round" stroke-linejoin="round"/>
<path d="M472.7 188.7L506.4 165.7" fill="none" stroke="#b8b818" stroke-width="8.8" stroke-linecap="round" stroke-linejoin="round"/>
<path d="M503.1 154.9L506.7 165.4" fill="none" stroke="#e8e818" stroke-width="8.8" stroke-linecap="round" stroke-linejoin="round"/>
<path d="M496.7 140.7L503.1 154.9" fill="none" stroke="#0a0af0" stroke-width="8.8" stroke-linecap="round" stroke-linejoin="round"/>
</g>
<text x="491.00" y="130.60" font-size="24.5">Y272C</text>
<text x="504.00" y="195.20" font-size="24.5">C267</text>
<rect x="337.35" y="41.45" width="308.5" height="307.8" fill="none" stroke="#231f20" stroke-width="4.3"/>
</g>
<g id="panel-b">
<text x="821.00" y="35.40" font-size="50" font-weight="bold">b</text>
<rect x="1237.00" y="40.00" width="13.90" height="12.90" fill="#2b35f6"/>
<polygon points="1237,40 1250.9,52.9 1237,52.9" fill="#662d91"/>
<rect x="1237.00" y="60.70" width="13.90" height="12.90" fill="#66ccff"/>
<polygon points="1237,60.7 1250.9,73.6 1237,73.6" fill="#ff00ff"/>
<text x="0.00" y="0.00" font-size="22.6" transform="translate(1257.20 52.90) scale(0.93 1)">10mM DTT</text>
<text x="0.00" y="0.00" font-size="22.6" transform="translate(1257.20 74.80) scale(0.93 1)">10µM Cu(phen)</text>
<rect x="906.30" y="311.60" width="19.30" height="2.40" fill="#2b35f6"/>
<rect x="928.60" y="311.40" width="19.20" height="2.60" fill="#66ccff"/>
<rect x="965.80" y="301.60" width="19.20" height="12.40" fill="#662d91"/>
<rect x="988.00" y="305.30" width="19.40" height="8.70" fill="#ff00ff"/>
<rect x="1025.80" y="107.10" width="19.00" height="206.90" fill="#662d91"/>
<rect x="1047.90" y="126.60" width="19.10" height="187.40" fill="#ff00ff"/>
<rect x="1085.00" y="122.90" width="19.20" height="191.10" fill="#2b35f6"/>
<rect x="1107.40" y="152.10" width="19.00" height="161.90" fill="#66ccff"/>
<rect x="1144.30" y="181.90" width="19.50" height="132.10" fill="#2b35f6"/>
<rect x="1166.90" y="248.60" width="19.00" height="65.40" fill="#66ccff"/>
<rect x="1203.90" y="211.90" width="19.50" height="102.10" fill="#2b35f6"/>
<rect x="1226.60" y="289.00" width="19.10" height="25.00" fill="#66ccff"/>
<rect x="1262.60" y="252.00" width="19.20" height="62.00" fill="#2b35f6"/>
<rect x="1285.40" y="287.80" width="19.10" height="26.20" fill="#66ccff"/>
<rect x="1322.00" y="284.10" width="19.50" height="29.90" fill="#2b35f6"/>
<rect x="1344.60" y="298.30" width="19.00" height="15.70" fill="#66ccff"/>
<path d="M1024 160.8 q6 -2.2 11 0 t11 0 t11 0 t11 0" fill="none" stroke="#fff" stroke-width="2.6"/>
<path d="M1083 160.8 q6 -2.2 11 0 t11 0 t11 0 t11 0" fill="none" stroke="#fff" stroke-width="2.6"/>
<line x1="901.20" y1="72.00" x2="901.20" y2="158.30" stroke="#000" stroke-width="4.0"/>
<line x1="901.20" y1="164.00" x2="901.20" y2="315.90" stroke="#000" stroke-width="4.0"/>
<line x1="895.80" y1="158.30" x2="906.80" y2="158.30" stroke="#000" stroke-width="4.0"/>
<line x1="895.80" y1="163.90" x2="906.80" y2="163.90" stroke="#000" stroke-width="3.7"/>
<line x1="893.80" y1="314.00" x2="1371.00" y2="314.00" stroke="#000" stroke-width="3.9"/>
<line x1="893.80" y1="74.00" x2="901.20" y2="74.00" stroke="#000" stroke-width="3.8"/>
<line x1="893.80" y1="127.90" x2="901.20" y2="127.90" stroke="#000" stroke-width="3.8"/>
<line x1="893.80" y1="183.40" x2="901.20" y2="183.40" stroke="#000" stroke-width="3.8"/>
<line x1="893.80" y1="248.70" x2="901.20" y2="248.70" stroke="#000" stroke-width="3.8"/>
<line x1="926.80" y1="314.00" x2="926.80" y2="321.30" stroke="#000" stroke-width="3.7"/>
<line x1="986.20" y1="314.00" x2="986.20" y2="321.30" stroke="#000" stroke-width="3.7"/>
<line x1="1045.80" y1="314.00" x2="1045.80" y2="321.30" stroke="#000" stroke-width="3.7"/>
<line x1="1105.00" y1="314.00" x2="1105.00" y2="321.30" stroke="#000" stroke-width="3.7"/>
<line x1="1164.40" y1="314.00" x2="1164.40" y2="321.30" stroke="#000" stroke-width="3.7"/>
<line x1="1224.30" y1="314.00" x2="1224.30" y2="321.30" stroke="#000" stroke-width="3.7"/>
<line x1="1283.70" y1="314.00" x2="1283.70" y2="321.30" stroke="#000" stroke-width="3.7"/>
<line x1="1342.80" y1="314.00" x2="1342.80" y2="321.30" stroke="#000" stroke-width="3.7"/>
<text x="884.90" y="82.30" font-size="28.7" text-anchor="end">8</text>
<text x="884.90" y="136.20" font-size="28.7" text-anchor="end">4</text>
<text x="892.60" y="191.70" font-size="28.7" text-anchor="end">1.0</text>
<text x="892.60" y="257.00" font-size="28.7" text-anchor="end">0.5</text>
<text x="892.60" y="322.30" font-size="28.7" text-anchor="end">0.0</text>
<text x="0.00" y="0.00" font-size="28.5" text-anchor="middle" transform="translate(811.50 192.70) rotate(-90)">Relative</text>
<text x="0.00" y="0.00" font-size="28.3" text-anchor="middle" transform="translate(844.30 189.00) rotate(-90)">Reactivation of FFL</text>
<text x="1006.00" y="71.40" font-size="25">1.4 fold</text>
<text x="1067.50" y="97.00" font-size="25">2.0 fold</text>
<text x="1128.00" y="149.80" font-size="25">2.0 fold</text>
<text x="1183.50" y="176.60" font-size="25" fill="#f5141e">4.2 fold</text>
<text x="1245.00" y="230.10" font-size="25">2.2 fold</text>
<text x="1301.80" y="264.20" font-size="25">2.0 fold</text>
<path d="M1034.90 90.60V82.80H1057.00V121.00" fill="none" stroke="#000" stroke-width="1.4"/>
<path d="M1095.70 112.00V104.20H1118.40V142.40" fill="none" stroke="#000" stroke-width="1.4"/>
<path d="M1154.80 172.10V160.50H1177.40V239.80" fill="none" stroke="#000" stroke-width="1.4"/>
<path d="M1213.20 192.90V182.80H1235.80V284.10" fill="none" stroke="#000" stroke-width="1.4"/>
<path d="M1272.10 245.00V237.20H1294.70V281.00" fill="none" stroke="#000" stroke-width="1.4"/>
<path d="M1331.30 279.30V272.00H1354.40V291.50" fill="none" stroke="#000" stroke-width="1.4"/>
<circle cx="911.10" cy="311.60" r="3.8" fill="none" stroke="#000" stroke-width="1.15"/>
<circle cx="916.20" cy="311.60" r="3.8" fill="none" stroke="#000" stroke-width="1.15"/>
<circle cx="920.90" cy="311.60" r="3.8" fill="none" stroke="#000" stroke-width="1.15"/>
<circle cx="933.40" cy="311.40" r="3.8" fill="none" stroke="#000" stroke-width="1.15"/>
<circle cx="938.30" cy="311.40" r="3.8" fill="none" stroke="#000" stroke-width="1.15"/>
<circle cx="943.00" cy="311.40" r="3.8" fill="none" stroke="#000" stroke-width="1.15"/>
<line x1="975.50" y1="300.60" x2="975.50" y2="302.60" stroke="#000" stroke-width="1.6"/>
<line x1="973.00" y1="300.60" x2="978.00" y2="300.60" stroke="#000" stroke-width="1.6"/>
<line x1="973.00" y1="302.60" x2="978.00" y2="302.60" stroke="#000" stroke-width="1.6"/>
<circle cx="969.90" cy="301.60" r="3.8" fill="none" stroke="#000" stroke-width="1.15"/>
<circle cx="975.50" cy="302.00" r="3.8" fill="none" stroke="#000" stroke-width="1.15"/>
<circle cx="981.70" cy="301.60" r="3.8" fill="none" stroke="#000" stroke-width="1.15"/>
<line x1="998.00" y1="304.60" x2="998.00" y2="306.40" stroke="#000" stroke-width="1.6"/>
<line x1="995.50" y1="304.60" x2="1000.50" y2="304.60" stroke="#000" stroke-width="1.6"/>
<line x1="995.50" y1="306.40" x2="1000.50" y2="306.40" stroke="#000" stroke-width="1.6"/>
<circle cx="992.00" cy="305.60" r="3.8" fill="none" stroke="#000" stroke-width="1.15"/>
<circle cx="998.00" cy="305.80" r="3.8" fill="none" stroke="#000" stroke-width="1.15"/>
<circle cx="1003.70" cy="305.60" r="3.8" fill="none" stroke="#000" stroke-width="1.15"/>
<line x1="1035.00" y1="98.50" x2="1035.00" y2="119.00" stroke="#000" stroke-width="1.6"/>
<line x1="1031.50" y1="98.50" x2="1038.50" y2="98.50" stroke="#000" stroke-width="1.6"/>
<line x1="1031.50" y1="119.00" x2="1038.50" y2="119.00" stroke="#000" stroke-width="1.6"/>
<circle cx="1034.00" cy="101.50" r="3.8" fill="none" stroke="#000" stroke-width="1.15"/>
<circle cx="1038.00" cy="102.50" r="3.8" fill="none" stroke="#000" stroke-width="1.15"/>
<circle cx="1035.00" cy="119.50" r="3.8" fill="none" stroke="#000" stroke-width="1.15"/>
<line x1="1057.50" y1="125.00" x2="1057.50" y2="128.50" stroke="#000" stroke-width="1.6"/>
<line x1="1054.50" y1="125.00" x2="1060.50" y2="125.00" stroke="#000" stroke-width="1.6"/>
<line x1="1054.50" y1="128.50" x2="1060.50" y2="128.50" stroke="#000" stroke-width="1.6"/>
<circle cx="1053.00" cy="125.50" r="3.8" fill="none" stroke="#000" stroke-width="1.15"/>
<circle cx="1061.50" cy="126.50" r="3.8" fill="none" stroke="#000" stroke-width="1.15"/>
<circle cx="1057.00" cy="129.50" r="3.8" fill="none" stroke="#000" stroke-width="1.15"/>
<line x1="1095.00" y1="120.00" x2="1095.00" y2="125.50" stroke="#000" stroke-width="1.6"/>
<line x1="1092.00" y1="120.00" x2="1098.00" y2="120.00" stroke="#000" stroke-width="1.6"/>
<line x1="1092.00" y1="125.50" x2="1098.00" y2="125.50" stroke="#000" stroke-width="1.6"/>
<circle cx="1090.00" cy="119.00" r="3.8" fill="none" stroke="#000" stroke-width="1.15"/>
<circle cx="1094.50" cy="125.00" r="3.8" fill="none" stroke="#000" stroke-width="1.15"/>
<circle cx="1100.00" cy="125.00" r="3.8" fill="none" stroke="#000" stroke-width="1.15"/>
<line x1="1117.00" y1="148.00" x2="1117.00" y2="156.00" stroke="#000" stroke-width="1.6"/>
<line x1="1114.00" y1="148.00" x2="1120.00" y2="148.00" stroke="#000" stroke-width="1.6"/>
<line x1="1114.00" y1="156.00" x2="1120.00" y2="156.00" stroke="#000" stroke-width="1.6"/>
<circle cx="1117.00" cy="148.00" r="3.8" fill="none" stroke="#000" stroke-width="1.15"/>
<circle cx="1112.50" cy="156.00" r="3.8" fill="none" stroke="#000" stroke-width="1.15"/>
<circle cx="1120.50" cy="153.50" r="3.8" fill="none" stroke="#000" stroke-width="1.15"/>
<line x1="1154.00" y1="175.00" x2="1154.00" y2="188.50" stroke="#000" stroke-width="1.6"/>
<line x1="1151.00" y1="175.00" x2="1157.00" y2="175.00" stroke="#000" stroke-width="1.6"/>
<line x1="1151.00" y1="188.50" x2="1157.00" y2="188.50" stroke="#000" stroke-width="1.6"/>
<circle cx="1154.00" cy="174.00" r="3.8" fill="none" stroke="#000" stroke-width="1.15"/>
<circle cx="1157.50" cy="185.00" r="3.8" fill="none" stroke="#000" stroke-width="1.15"/>
<circle cx="1151.00" cy="189.00" r="3.8" fill="none" stroke="#000" stroke-width="1.15"/>
<line x1="1176.50" y1="243.00" x2="1176.50" y2="254.50" stroke="#000" stroke-width="1.6"/>
<line x1="1173.50" y1="243.00" x2="1179.50" y2="243.00" stroke="#000" stroke-width="1.6"/>
<line x1="1173.50" y1="254.50" x2="1179.50" y2="254.50" stroke="#000" stroke-width="1.6"/>
<circle cx="1176.50" cy="241.50" r="3.8" fill="none" stroke="#000" stroke-width="1.15"/>
<circle cx="1172.50" cy="251.50" r="3.8" fill="none" stroke="#000" stroke-width="1.15"/>
<circle cx="1180.00" cy="250.50" r="3.8" fill="none" stroke="#000" stroke-width="1.15"/>
<line x1="1213.50" y1="197.00" x2="1213.50" y2="228.00" stroke="#000" stroke-width="1.6"/>
<line x1="1210.50" y1="197.00" x2="1216.50" y2="197.00" stroke="#000" stroke-width="1.6"/>
<line x1="1210.50" y1="228.00" x2="1216.50" y2="228.00" stroke="#000" stroke-width="1.6"/>
<circle cx="1213.50" cy="197.00" r="3.8" fill="none" stroke="#000" stroke-width="1.15"/>
<circle cx="1213.50" cy="214.50" r="3.8" fill="none" stroke="#000" stroke-width="1.15"/>
<circle cx="1213.50" cy="226.00" r="3.8" fill="none" stroke="#000" stroke-width="1.15"/>
<line x1="1236.00" y1="288.40" x2="1236.00" y2="290.00" stroke="#000" stroke-width="1.6"/>
<line x1="1233.50" y1="288.40" x2="1238.50" y2="288.40" stroke="#000" stroke-width="1.6"/>
<line x1="1233.50" y1="290.00" x2="1238.50" y2="290.00" stroke="#000" stroke-width="1.6"/>
<circle cx="1230.00" cy="289.20" r="3.8" fill="none" stroke="#000" stroke-width="1.15"/>
<circle cx="1236.00" cy="289.50" r="3.8" fill="none" stroke="#000" stroke-width="1.15"/>
<circle cx="1242.00" cy="289.20" r="3.8" fill="none" stroke="#000" stroke-width="1.15"/>
<line x1="1272.00" y1="249.00" x2="1272.00" y2="255.50" stroke="#000" stroke-width="1.6"/>
<line x1="1269.00" y1="249.00" x2="1275.00" y2="249.00" stroke="#000" stroke-width="1.6"/>
<line x1="1269.00" y1="255.50" x2="1275.00" y2="255.50" stroke="#000" stroke-width="1.6"/>
<circle cx="1267.50" cy="249.00" r="3.8" fill="none" stroke="#000" stroke-width="1.15"/>
<circle cx="1272.50" cy="254.00" r="3.8" fill="none" stroke="#000" stroke-width="1.15"/>
<circle cx="1277.50" cy="253.50" r="3.8" fill="none" stroke="#000" stroke-width="1.15"/>
<line x1="1295.00" y1="286.00" x2="1295.00" y2="289.50" stroke="#000" stroke-width="1.6"/>
<line x1="1292.50" y1="286.00" x2="1297.50" y2="286.00" stroke="#000" stroke-width="1.6"/>
<line x1="1292.50" y1="289.50" x2="1297.50" y2="289.50" stroke="#000" stroke-width="1.6"/>
<circle cx="1289.50" cy="285.50" r="3.8" fill="none" stroke="#000" stroke-width="1.15"/>
<circle cx="1295.00" cy="287.50" r="3.8" fill="none" stroke="#000" stroke-width="1.15"/>
<circle cx="1301.00" cy="286.50" r="3.8" fill="none" stroke="#000" stroke-width="1.15"/>
<line x1="1332.00" y1="283.00" x2="1332.00" y2="285.50" stroke="#000" stroke-width="1.6"/>
<line x1="1329.50" y1="283.00" x2="1334.50" y2="283.00" stroke="#000" stroke-width="1.6"/>
<line x1="1329.50" y1="285.50" x2="1334.50" y2="285.50" stroke="#000" stroke-width="1.6"/>
<circle cx="1326.50" cy="284.00" r="3.8" fill="none" stroke="#000" stroke-width="1.15"/>
<circle cx="1332.00" cy="285.00" r="3.8" fill="none" stroke="#000" stroke-width="1.15"/>
<circle cx="1337.50" cy="284.00" r="3.8" fill="none" stroke="#000" stroke-width="1.15"/>
<line x1="1354.00" y1="297.00" x2="1354.00" y2="300.00" stroke="#000" stroke-width="1.6"/>
<line x1="1351.50" y1="297.00" x2="1356.50" y2="297.00" stroke="#000" stroke-width="1.6"/>
<line x1="1351.50" y1="300.00" x2="1356.50" y2="300.00" stroke="#000" stroke-width="1.6"/>
<circle cx="1349.00" cy="296.00" r="3.8" fill="none" stroke="#000" stroke-width="1.15"/>
<circle cx="1354.00" cy="299.50" r="3.8" fill="none" stroke="#000" stroke-width="1.15"/>
<circle cx="1358.50" cy="298.50" r="3.8" fill="none" stroke="#000" stroke-width="1.15"/>
<text x="0.00" y="0.00" font-size="28.2" text-anchor="end" transform="translate(950.00 335.00) rotate(-45)">no chaperone</text>
<text x="0.00" y="0.00" font-size="28.9" text-anchor="end" transform="translate(1005.00 335.50) rotate(-45)">Hsp70/40</text>
<text x="0.00" y="0.00" font-size="28.8" text-anchor="end" transform="translate(1068.00 335.00) rotate(-45)">Hsp104+Hsp70/40</text>
<text x="0.00" y="0.00" font-size="29.2" text-anchor="end" transform="translate(1126.30 337.00) rotate(-45)">SKD3<tspan font-size="23.6" dx="1.5" dy="4.5">iso2</tspan></text>
<text x="0.00" y="0.00" font-size="29.2" text-anchor="end" transform="translate(1184.40 337.60) rotate(-45)">SKD3</text>
<text x="0.00" y="0.00" font-size="29.2" text-anchor="end" transform="translate(1244.30 332.50) rotate(-45)">SKD3<tspan font-size="21.8" dx="4.5" dy="6.0">Y272C</tspan></text>
<text x="0.00" y="0.00" font-size="29.2" text-anchor="end" transform="translate(1300.30 337.20) rotate(-45)">SKD3<tspan font-size="21.8" dx="1.5" dy="5.5">T268M</tspan></text>
<text x="0.00" y="0.00" font-size="29.2" text-anchor="end" transform="translate(1361.80 340.00) rotate(-45)">SKD3<tspan font-size="21.8" dx="3.4" dy="4.0">A269T</tspan></text>
</g>
<g id="panel-c">
<text x="-1.20" y="550.40" font-size="49" font-weight="bold">c</text>
<rect x="405.20" y="588.50" width="13.50" height="13.10" fill="#2b35f6"/>
<rect x="405.20" y="609.40" width="13.50" height="13.10" fill="#66ccff"/>
<text x="0.00" y="0.00" font-size="22.6" transform="translate(425.60 601.60) scale(0.935 1)">10mM DTT</text>
<text x="0.00" y="0.00" font-size="22.6" transform="translate(425.60 623.40) scale(0.935 1)">10µM Cu(phen)</text>
<rect x="129.00" y="850.90" width="22.40" height="6.20" fill="#2b35f6"/>
<rect x="157.00" y="847.30" width="22.40" height="9.80" fill="#66ccff"/>
<rect x="203.50" y="618.10" width="22.40" height="239.00" fill="#2b35f6"/>
<rect x="231.30" y="679.00" width="22.40" height="178.10" fill="#66ccff"/>
<rect x="277.50" y="753.60" width="22.40" height="103.50" fill="#2b35f6"/>
<rect x="305.50" y="801.20" width="22.40" height="55.90" fill="#66ccff"/>
<rect x="352.10" y="713.90" width="22.20" height="143.20" fill="#2b35f6"/>
<rect x="380.00" y="819.10" width="22.20" height="38.00" fill="#66ccff"/>
<rect x="426.30" y="715.00" width="22.10" height="142.10" fill="#2b35f6"/>
<rect x="454.20" y="811.50" width="22.20" height="45.60" fill="#66ccff"/>
<rect x="500.40" y="771.40" width="22.50" height="85.70" fill="#2b35f6"/>
<rect x="528.50" y="822.00" width="22.50" height="35.10" fill="#66ccff"/>
<path d="M202 694.6 q6.5 -2.4 13 0 t13 0 t13 0 t13 0" fill="none" stroke="#fff" stroke-width="2.8"/>
<line x1="121.40" y1="600.50" x2="121.40" y2="692.40" stroke="#000" stroke-width="4.4"/>
<line x1="121.40" y1="697.60" x2="121.40" y2="859.30" stroke="#000" stroke-width="4.4"/>
<line x1="116.20" y1="692.30" x2="127.20" y2="692.30" stroke="#000" stroke-width="3.8"/>
<line x1="116.20" y1="697.70" x2="127.20" y2="697.70" stroke="#000" stroke-width="3.6"/>
<line x1="114.30" y1="857.10" x2="558.40" y2="857.10" stroke="#000" stroke-width="4.4"/>
<line x1="114.30" y1="602.50" x2="121.40" y2="602.50" stroke="#000" stroke-width="3.8"/>
<text x="110.40" y="613.60" font-size="29" text-anchor="end">60</text>
<line x1="114.30" y1="636.90" x2="121.40" y2="636.90" stroke="#000" stroke-width="3.8"/>
<text x="110.40" y="647.30" font-size="29" text-anchor="end">40</text>
<line x1="114.30" y1="671.00" x2="121.40" y2="671.00" stroke="#000" stroke-width="3.8"/>
<text x="110.40" y="683.20" font-size="29" text-anchor="end">20</text>
<line x1="114.30" y1="737.70" x2="121.40" y2="737.70" stroke="#000" stroke-width="3.8"/>
<text x="110.40" y="745.60" font-size="29" text-anchor="end">6</text>
<line x1="114.30" y1="777.40" x2="121.40" y2="777.40" stroke="#000" stroke-width="3.8"/>
<text x="110.40" y="784.90" font-size="29" text-anchor="end">4</text>
<line x1="114.30" y1="817.30" x2="121.40" y2="817.30" stroke="#000" stroke-width="3.8"/>
<text x="110.40" y="826.90" font-size="29" text-anchor="end">2</text>
<text x="110.40" y="867.20" font-size="29" text-anchor="end">0</text>
<line x1="153.40" y1="857.10" x2="153.40" y2="864.90" stroke="#000" stroke-width="3.7"/>
<line x1="227.70" y1="857.10" x2="227.70" y2="864.90" stroke="#000" stroke-width="3.7"/>
<line x1="302.00" y1="857.10" x2="302.00" y2="864.90" stroke="#000" stroke-width="3.7"/>
<line x1="377.00" y1="857.10" x2="377.00" y2="864.90" stroke="#000" stroke-width="3.7"/>
<line x1="451.10" y1="857.10" x2="451.10" y2="864.90" stroke="#000" stroke-width="3.7"/>
<line x1="525.30" y1="857.10" x2="525.30" y2="864.90" stroke="#000" stroke-width="3.7"/>
<text x="0.00" y="0.00" font-size="28.2" text-anchor="end" transform="translate(25.20 578.70) rotate(-90)">-syn-GFP Fluorescence</text>
<text x="0.00" y="0.00" font-size="28.2" transform="translate(25.20 894.20) rotate(-90) scale(1.17 1)">α</text>
<text x="0.00" y="0.00" font-size="28.4" text-anchor="end" transform="translate(60.90 639.20) rotate(-90)">(10<tspan font-size="24" dy="-12.4">3</tspan><tspan dy="12.4">arb. units)</tspan></text>
<text x="184.00" y="589.00" font-size="25">3.3 fold</text>
<text x="257.60" y="694.80" font-size="25">1.9 fold</text>
<text x="335.00" y="655.20" font-size="25" fill="#f5141e">3.8 fold</text>
<text x="408.40" y="682.10" font-size="25">3.0 fold</text>
<text x="484.60" y="740.10" font-size="25">2.5 fold</text>
<path d="M213.70 608.90V599.10H242.20V669.70" fill="none" stroke="#000" stroke-width="1.4"/>
<path d="M288.90 742.70V705.00H316.30V782.00" fill="none" stroke="#000" stroke-width="1.4"/>
<path d="M363.40 699.30V664.50H391.00V805.20" fill="none" stroke="#000" stroke-width="1.4"/>
<path d="M437.50 701.60V689.70H465.20V800.20" fill="none" stroke="#000" stroke-width="1.4"/>
<path d="M511.20 759.00V749.20H539.80V809.70" fill="none" stroke="#000" stroke-width="1.4"/>
<line x1="140.00" y1="850.00" x2="140.00" y2="852.00" stroke="#000" stroke-width="1.6"/>
<line x1="137.50" y1="850.00" x2="142.50" y2="850.00" stroke="#000" stroke-width="1.6"/>
<line x1="137.50" y1="852.00" x2="142.50" y2="852.00" stroke="#000" stroke-width="1.6"/>
<circle cx="135.00" cy="851.00" r="3.8" fill="none" stroke="#000" stroke-width="1.15"/>
<circle cx="140.50" cy="852.00" r="3.8" fill="none" stroke="#000" stroke-width="1.15"/>
<circle cx="145.50" cy="850.50" r="3.8" fill="none" stroke="#000" stroke-width="1.15"/>
<line x1="168.00" y1="845.50" x2="168.00" y2="849.50" stroke="#000" stroke-width="1.6"/>
<line x1="165.00" y1="845.50" x2="171.00" y2="845.50" stroke="#000" stroke-width="1.6"/>
<line x1="165.00" y1="849.50" x2="171.00" y2="849.50" stroke="#000" stroke-width="1.6"/>
<circle cx="163.50" cy="844.50" r="3.8" fill="none" stroke="#000" stroke-width="1.15"/>
<circle cx="167.00" cy="850.00" r="3.8" fill="none" stroke="#000" stroke-width="1.15"/>
<circle cx="172.50" cy="848.50" r="3.8" fill="none" stroke="#000" stroke-width="1.15"/>
<line x1="214.00" y1="616.50" x2="214.00" y2="620.00" stroke="#000" stroke-width="1.6"/>
<line x1="211.00" y1="616.50" x2="217.00" y2="616.50" stroke="#000" stroke-width="1.6"/>
<line x1="211.00" y1="620.00" x2="217.00" y2="620.00" stroke="#000" stroke-width="1.6"/>
<circle cx="210.00" cy="616.50" r="3.8" fill="none" stroke="#000" stroke-width="1.15"/>
<circle cx="218.50" cy="618.50" r="3.8" fill="none" stroke="#000" stroke-width="1.15"/>
<circle cx="213.50" cy="621.00" r="3.8" fill="none" stroke="#000" stroke-width="1.15"/>
<line x1="242.00" y1="675.50" x2="242.00" y2="682.50" stroke="#000" stroke-width="1.6"/>
<line x1="239.00" y1="675.50" x2="245.00" y2="675.50" stroke="#000" stroke-width="1.6"/>
<line x1="239.00" y1="682.50" x2="245.00" y2="682.50" stroke="#000" stroke-width="1.6"/>
<circle cx="237.50" cy="675.00" r="3.8" fill="none" stroke="#000" stroke-width="1.15"/>
<circle cx="247.00" cy="679.00" r="3.8" fill="none" stroke="#000" stroke-width="1.15"/>
<circle cx="242.00" cy="683.00" r="3.8" fill="none" stroke="#000" stroke-width="1.15"/>
<line x1="288.50" y1="751.50" x2="288.50" y2="756.00" stroke="#000" stroke-width="1.6"/>
<line x1="285.50" y1="751.50" x2="291.50" y2="751.50" stroke="#000" stroke-width="1.6"/>
<line x1="285.50" y1="756.00" x2="291.50" y2="756.00" stroke="#000" stroke-width="1.6"/>
<circle cx="284.00" cy="751.50" r="3.8" fill="none" stroke="#000" stroke-width="1.15"/>
<circle cx="293.50" cy="753.00" r="3.8" fill="none" stroke="#000" stroke-width="1.15"/>
<circle cx="288.50" cy="756.50" r="3.8" fill="none" stroke="#000" stroke-width="1.15"/>
<line x1="316.50" y1="791.50" x2="316.50" y2="812.50" stroke="#000" stroke-width="1.6"/>
<line x1="313.00" y1="791.50" x2="320.00" y2="791.50" stroke="#000" stroke-width="1.6"/>
<line x1="313.00" y1="812.50" x2="320.00" y2="812.50" stroke="#000" stroke-width="1.6"/>
<circle cx="311.50" cy="792.50" r="3.8" fill="none" stroke="#000" stroke-width="1.15"/>
<circle cx="321.00" cy="798.50" r="3.8" fill="none" stroke="#000" stroke-width="1.15"/>
<circle cx="316.00" cy="813.50" r="3.8" fill="none" stroke="#000" stroke-width="1.15"/>
<line x1="363.00" y1="706.50" x2="363.00" y2="715.50" stroke="#000" stroke-width="1.6"/>
<line x1="360.00" y1="706.50" x2="366.00" y2="706.50" stroke="#000" stroke-width="1.6"/>
<line x1="360.00" y1="715.50" x2="366.00" y2="715.50" stroke="#000" stroke-width="1.6"/>
<circle cx="363.00" cy="705.50" r="3.8" fill="none" stroke="#000" stroke-width="1.15"/>
<circle cx="358.00" cy="716.00" r="3.8" fill="none" stroke="#000" stroke-width="1.15"/>
<circle cx="368.00" cy="715.50" r="3.8" fill="none" stroke="#000" stroke-width="1.15"/>
<line x1="391.00" y1="812.00" x2="391.00" y2="826.00" stroke="#000" stroke-width="1.6"/>
<line x1="388.00" y1="812.00" x2="394.00" y2="812.00" stroke="#000" stroke-width="1.6"/>
<line x1="388.00" y1="826.00" x2="394.00" y2="826.00" stroke="#000" stroke-width="1.6"/>
<circle cx="391.00" cy="812.00" r="3.8" fill="none" stroke="#000" stroke-width="1.15"/>
<circle cx="385.50" cy="825.00" r="3.8" fill="none" stroke="#000" stroke-width="1.15"/>
<circle cx="396.50" cy="825.00" r="3.8" fill="none" stroke="#000" stroke-width="1.15"/>
<line x1="437.50" y1="711.00" x2="437.50" y2="718.50" stroke="#000" stroke-width="1.6"/>
<line x1="434.50" y1="711.00" x2="440.50" y2="711.00" stroke="#000" stroke-width="1.6"/>
<line x1="434.50" y1="718.50" x2="440.50" y2="718.50" stroke="#000" stroke-width="1.6"/>
<circle cx="433.00" cy="709.00" r="3.8" fill="none" stroke="#000" stroke-width="1.15"/>
<circle cx="441.50" cy="715.50" r="3.8" fill="none" stroke="#000" stroke-width="1.15"/>
<circle cx="437.50" cy="719.50" r="3.8" fill="none" stroke="#000" stroke-width="1.15"/>
<line x1="465.30" y1="810.60" x2="465.30" y2="812.40" stroke="#000" stroke-width="1.6"/>
<line x1="462.80" y1="810.60" x2="467.80" y2="810.60" stroke="#000" stroke-width="1.6"/>
<line x1="462.80" y1="812.40" x2="467.80" y2="812.40" stroke="#000" stroke-width="1.6"/>
<circle cx="458.50" cy="811.50" r="3.8" fill="none" stroke="#000" stroke-width="1.15"/>
<circle cx="465.30" cy="811.50" r="3.8" fill="none" stroke="#000" stroke-width="1.15"/>
<circle cx="472.00" cy="811.50" r="3.8" fill="none" stroke="#000" stroke-width="1.15"/>
<line x1="511.50" y1="768.00" x2="511.50" y2="775.00" stroke="#000" stroke-width="1.6"/>
<line x1="508.50" y1="768.00" x2="514.50" y2="768.00" stroke="#000" stroke-width="1.6"/>
<line x1="508.50" y1="775.00" x2="514.50" y2="775.00" stroke="#000" stroke-width="1.6"/>
<circle cx="507.00" cy="766.50" r="3.8" fill="none" stroke="#000" stroke-width="1.15"/>
<circle cx="515.50" cy="771.50" r="3.8" fill="none" stroke="#000" stroke-width="1.15"/>
<circle cx="511.50" cy="775.50" r="3.8" fill="none" stroke="#000" stroke-width="1.15"/>
<line x1="539.80" y1="817.50" x2="539.80" y2="826.50" stroke="#000" stroke-width="1.6"/>
<line x1="536.80" y1="817.50" x2="542.80" y2="817.50" stroke="#000" stroke-width="1.6"/>
<line x1="536.80" y1="826.50" x2="542.80" y2="826.50" stroke="#000" stroke-width="1.6"/>
<circle cx="534.50" cy="816.50" r="3.8" fill="none" stroke="#000" stroke-width="1.15"/>
<circle cx="543.50" cy="823.00" r="3.8" fill="none" stroke="#000" stroke-width="1.15"/>
<circle cx="539.00" cy="827.50" r="3.8" fill="none" stroke="#000" stroke-width="1.15"/>
<text x="0.00" y="0.00" font-size="29.2" text-anchor="end" transform="translate(173.00 880.00) rotate(-45)">no chaperone</text>
<text x="0.00" y="0.00" font-size="29.2" text-anchor="end" transform="translate(247.30 883.70) rotate(-45)">SKD3<tspan font-size="23.6" dx="1.5" dy="5.3">iso2</tspan></text>
<text x="0.00" y="0.00" font-size="29.2" text-anchor="end" transform="translate(328.00 882.50) rotate(-45)">SKD3</text>
<text x="0.00" y="0.00" font-size="29.2" text-anchor="end" transform="translate(403.50 874.40) rotate(-45)">SKD3<tspan font-size="21.7" dx="3.2" dy="6.0">Y272C</tspan></text>
<text x="0.00" y="0.00" font-size="29.2" text-anchor="end" transform="translate(476.80 876.20) rotate(-45)">SKD3<tspan font-size="22.0" dx="0.5" dy="5.7">T268M</tspan></text>
<text x="0.00" y="0.00" font-size="29.2" text-anchor="end" transform="translate(550.00 881.10) rotate(-45)">SKD3<tspan font-size="21.8" dx="3.6" dy="4.5">A269T</tspan></text>
</g>
<g id="panel-d">
<text x="614.00" y="549.80" font-size="49" font-weight="bold">d</text>
<text x="588.80" y="813.60" font-size="28">kDa</text>
<text x="589.20" y="842.60" font-size="28">37</text>
<rect x="624.70" y="828.40" width="23.20" height="5.10" fill="#000"/>
<defs><linearGradient id="blotbg" x1="0" y1="0" x2="1" y2="0"><stop offset="0" stop-color="#8e8e8e"/><stop offset="0.04" stop-color="#a6a6a6"/><stop offset="0.30" stop-color="#b2b2b2"/><stop offset="0.43" stop-color="#cccccc"/><stop offset="0.49" stop-color="#e6e6e6"/><stop offset="0.53" stop-color="#e2e2e2"/><stop offset="0.60" stop-color="#c8c8c8"/><stop offset="0.72" stop-color="#b4b4b4"/><stop offset="0.95" stop-color="#a6a6a6"/><stop offset="1" stop-color="#8a8a8a"/></linearGradient><linearGradient id="blotv" x1="0" y1="0" x2="0" y2="1"><stop offset="0" stop-color="#fff" stop-opacity="0.25"/><stop offset="0.5" stop-color="#fff" stop-opacity="0"/><stop offset="1" stop-color="#000" stop-opacity="0.12"/></linearGradient><filter id="blur1" x="-20%" y="-50%" width="140%" height="200%"><feGaussianBlur stdDeviation="1.7 1.2"/></filter><filter id="blur2" x="-30%" y="-80%" width="160%" height="260%"><feGaussianBlur stdDeviation="3.2 2.4"/></filter><clipPath id="blotclip"><rect x="651.9" y="825.2" width="303.1" height="29.0"/></clipPath></defs>
<rect x="651.90" y="825.20" width="303.10" height="29.00" fill="url(#blotbg)"/>
<rect x="651.90" y="825.20" width="303.10" height="29.00" fill="url(#blotv)"/>
<g clip-path="url(#blotclip)"><g filter="url(#blur2)">
<rect x="656.0" y="831.1" width="34.0" height="15.0" rx="7.5" fill="#000" opacity="0.45"/>
<rect x="692.0" y="833.1" width="29.0" height="11.0" rx="5.5" fill="#000" opacity="0.22"/>
<rect x="724.0" y="832.6" width="31.0" height="12.0" rx="6.0" fill="#000" opacity="0.28"/>
<rect x="758.0" y="834.0" width="32.0" height="12.0" rx="6.0" fill="#000" opacity="0.1"/>
<rect x="857.0" y="831.1" width="31.0" height="15.0" rx="7.5" fill="#000" opacity="0.42"/>
<rect x="889.5" y="832.6" width="29.0" height="12.0" rx="6.0" fill="#000" opacity="0.3"/>
<rect x="921.0" y="831.6" width="30.0" height="14.0" rx="7.0" fill="#000" opacity="0.4"/>
</g><g filter="url(#blur1)">
<rect x="659.5" y="834.8" width="27.0" height="7.6" rx="3.8" fill="#000" opacity="1"/>
<rect x="695.0" y="836.1" width="23.5" height="4.6" rx="2.3" fill="#111" opacity="0.72"/>
<rect x="727.5" y="835.2" width="24.0" height="5.2" rx="2.6" fill="#000" opacity="0.85"/>
<rect x="730.0" y="844.0" width="20.0" height="3.0" rx="1.5" fill="#333" opacity="0.18"/>
<rect x="761.5" y="835.4" width="25.5" height="3.6" rx="1.8" fill="#222" opacity="0.42"/>
<rect x="766.0" y="843.5" width="22.0" height="3.0" rx="1.5" fill="#444" opacity="0.15"/>
<rect x="830.0" y="835.6" width="19.0" height="3.2" rx="1.6" fill="#444" opacity="0.28"/>
<rect x="860.5" y="835.0" width="24.5" height="7.0" rx="3.5" fill="#000" opacity="1"/>
<rect x="893.0" y="836.2" width="23.0" height="4.4" rx="2.2" fill="#000" opacity="0.92"/>
<rect x="924.5" y="835.3" width="23.0" height="6.2" rx="3.1" fill="#000" opacity="1"/>
</g></g>
<rect x="651.9" y="825.2" width="303.1" height="29.0" fill="none" stroke="#000" stroke-width="1.7"/>
<text x="674.30" y="890.40" font-size="28">Soluble</text>
<text x="835.70" y="890.40" font-size="28">Insoluble</text>
<text x="0.00" y="0.00" font-size="28.87" transform="translate(669.50 818.00) rotate(-50.55)">Hap1 parental</text>
<text x="0.00" y="0.00" font-size="28.87" transform="translate(706.80 818.00) rotate(-50.55)">Hap1 KO</text>
<text x="0.00" y="0.00" font-size="28.87" transform="translate(744.50 818.80) rotate(-50.55)">Hap1 KO + SKD3</text>
<text x="0.00" y="0.00" font-size="28.87" transform="translate(784.50 819.00) rotate(-50.55)">Hap1 KO + SKD3<tspan font-size="22" dy="5.5">Y272C</tspan></text>
<text x="0.00" y="0.00" font-size="28.87" transform="translate(838.90 818.50) rotate(-50.55)">Hap1 parental</text>
<text x="0.00" y="0.00" font-size="28.87" transform="translate(876.60 818.80) rotate(-50.55)">Hap1 KO</text>
<text x="0.00" y="0.00" font-size="28.87" transform="translate(913.70 819.20) rotate(-50.55)">Hap1 KO + SKD3</text>
<text x="0.00" y="0.00" font-size="28.87" transform="translate(947.30 819.70) rotate(-50.55)">Hap1 KO + SKD3<tspan font-size="22" dy="5.5">Y272C</tspan></text>
</g>
<g id="panel-e">
<text x="1124.30" y="549.90" font-size="49" font-weight="bold">e</text>
<rect x="1269.60" y="724.50" width="35.10" height="119.50" fill="#6a6a6a" stroke="#000" stroke-width="3.6"/>
<rect x="1375.30" y="670.50" width="34.80" height="173.50" fill="#c9c9c9" stroke="#000" stroke-width="3.6"/>
<rect x="1427.60" y="745.50" width="34.80" height="98.50" fill="#f1f1f1" stroke="#000" stroke-width="3.6"/>
<line x1="1252.00" y1="587.10" x2="1252.00" y2="846.00" stroke="#000" stroke-width="3.8"/>
<line x1="1241.10" y1="844.00" x2="1480.20" y2="844.00" stroke="#000" stroke-width="4.0"/>
<text x="1236.00" y="857.30" font-size="28" text-anchor="end">0.0</text>
<line x1="1241.10" y1="785.60" x2="1252.00" y2="785.60" stroke="#000" stroke-width="3.8"/>
<text x="1236.00" y="796.60" font-size="28" text-anchor="end">0.5</text>
<line x1="1241.10" y1="727.20" x2="1252.00" y2="727.20" stroke="#000" stroke-width="3.8"/>
<text x="1236.00" y="737.20" font-size="28" text-anchor="end">1.0</text>
<line x1="1241.10" y1="668.80" x2="1252.00" y2="668.80" stroke="#000" stroke-width="3.8"/>
<text x="1236.00" y="676.30" font-size="28" text-anchor="end">1.5</text>
<line x1="1241.10" y1="610.40" x2="1252.00" y2="610.40" stroke="#000" stroke-width="3.8"/>
<text x="1236.00" y="615.50" font-size="28" text-anchor="end">2.0</text>
<line x1="1286.70" y1="844.00" x2="1286.70" y2="855.60" stroke="#000" stroke-width="3.9"/>
<line x1="1339.70" y1="844.00" x2="1339.70" y2="855.60" stroke="#000" stroke-width="3.9"/>
<line x1="1392.00" y1="844.00" x2="1392.00" y2="855.60" stroke="#000" stroke-width="3.9"/>
<line x1="1445.10" y1="844.00" x2="1445.10" y2="855.60" stroke="#000" stroke-width="3.9"/>
<text x="0.00" y="0.00" font-size="28.45" text-anchor="middle" transform="translate(1176.10 714.70) rotate(-90)">Relative mRNA expression</text>
<line x1="1286.80" y1="701.60" x2="1286.80" y2="744.50" stroke="#000" stroke-width="1.8"/>
<line x1="1277.20" y1="701.60" x2="1296.40" y2="701.60" stroke="#000" stroke-width="1.8"/>
<line x1="1277.20" y1="744.50" x2="1296.40" y2="744.50" stroke="#000" stroke-width="1.8"/>
<line x1="1392.20" y1="617.40" x2="1392.20" y2="720.30" stroke="#000" stroke-width="1.8"/>
<line x1="1382.60" y1="617.40" x2="1401.80" y2="617.40" stroke="#000" stroke-width="1.8"/>
<line x1="1382.60" y1="720.30" x2="1401.80" y2="720.30" stroke="#000" stroke-width="1.8"/>
<line x1="1445.20" y1="724.80" x2="1445.20" y2="763.50" stroke="#000" stroke-width="1.8"/>
<line x1="1435.60" y1="724.80" x2="1454.80" y2="724.80" stroke="#000" stroke-width="1.8"/>
<line x1="1435.60" y1="763.50" x2="1454.80" y2="763.50" stroke="#000" stroke-width="1.8"/>
<circle cx="1286.80" cy="693.70" r="4.3" fill="none" stroke="#000" stroke-width="1.25"/>
<circle cx="1286.80" cy="711.40" r="4.3" fill="none" stroke="#000" stroke-width="1.25"/>
<circle cx="1286.80" cy="764.70" r="4.3" fill="none" stroke="#000" stroke-width="1.25"/>
<circle cx="1329.20" cy="844.30" r="4.3" fill="none" stroke="#000" stroke-width="1.25"/>
<circle cx="1339.90" cy="844.30" r="4.3" fill="none" stroke="#000" stroke-width="1.25"/>
<circle cx="1350.50" cy="844.30" r="4.3" fill="none" stroke="#000" stroke-width="1.25"/>
<circle cx="1392.20" cy="610.60" r="4.3" fill="none" stroke="#000" stroke-width="1.25"/>
<circle cx="1392.20" cy="628.00" r="4.3" fill="none" stroke="#000" stroke-width="1.25"/>
<circle cx="1392.20" cy="773.50" r="4.3" fill="none" stroke="#000" stroke-width="1.25"/>
<circle cx="1438.90" cy="723.20" r="4.3" fill="none" stroke="#000" stroke-width="1.25"/>
<circle cx="1451.80" cy="724.60" r="4.3" fill="none" stroke="#000" stroke-width="1.25"/>
<circle cx="1445.20" cy="782.90" r="4.3" fill="none" stroke="#000" stroke-width="1.25"/>
<line x1="1286.00" y1="666.00" x2="1336.80" y2="666.00" stroke="#000" stroke-width="3.8"/>
<line x1="1339.40" y1="598.80" x2="1389.90" y2="598.80" stroke="#000" stroke-width="3.6"/>
<line x1="1339.40" y1="552.00" x2="1444.70" y2="552.00" stroke="#000" stroke-width="3.6"/>
<text x="1273.40" y="648.50" font-size="20.3">p=0.030</text>
<text x="1326.00" y="590.40" font-size="20.3">p=0.077</text>
<text x="1355.00" y="534.80" font-size="20.3">p=0.038</text>
<text x="1310.80" y="671.90" font-size="30" text-anchor="middle">*</text>
<text x="1393.40" y="558.60" font-size="30" text-anchor="middle">*</text>
<text x="0.00" y="0.00" font-size="28.87" transform="translate(1158.20 998.60) rotate(-44.7)">Hap1 parental</text>
<text x="0.00" y="0.00" font-size="28.87" transform="translate(1262.00 955.10) rotate(-44.7)">Hap1 KO</text>
<text x="0.00" y="0.00" font-size="28.87" transform="translate(1249.90 1033.60) rotate(-44.7)">Hap1 KO + SKD3</text>
<text x="0.00" y="0.00" font-size="28.87" transform="translate(1281.30 1067.40) rotate(-44.7)">Hap1 KO + SKD3<tspan font-size="22" dy="5.5">Y272C</tspan></text>
</g>
</svg>
</body></html>
